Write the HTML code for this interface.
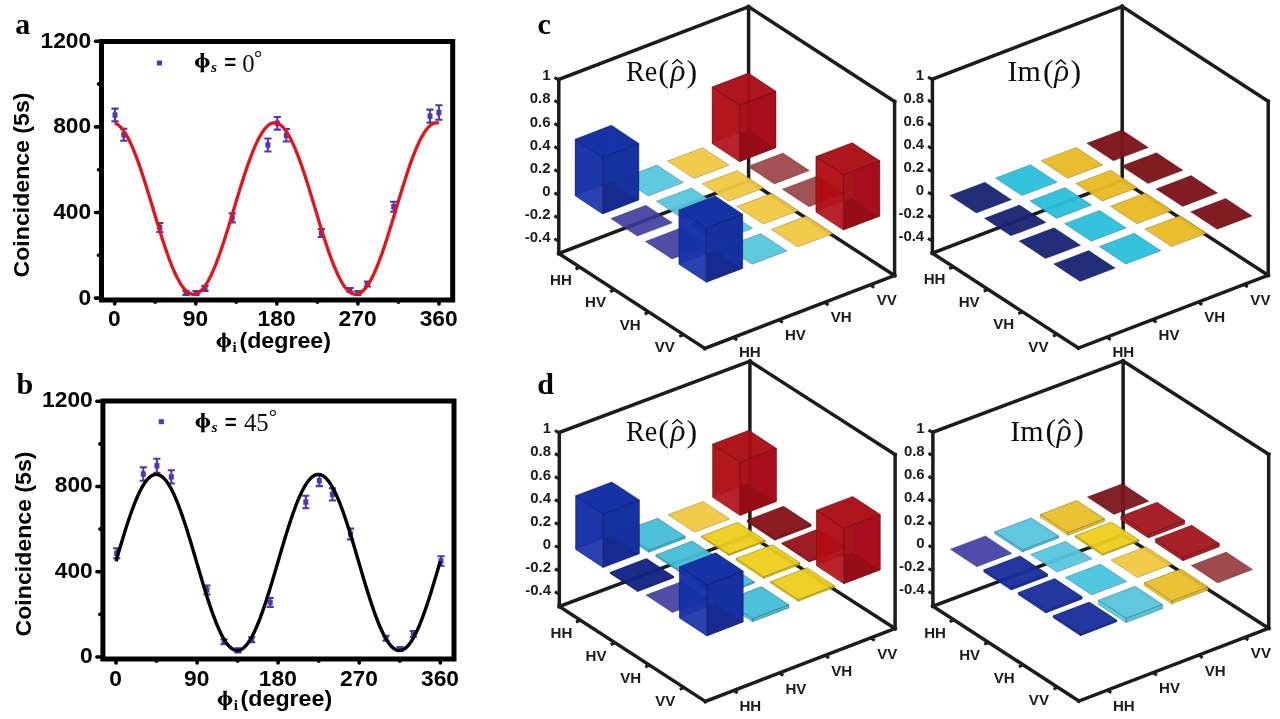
<!DOCTYPE html><html><head><meta charset="utf-8"><title>figure</title><style>html,body{margin:0;padding:0;background:#fff}svg{display:block;will-change:transform}</style></head><body>
<svg width="1280" height="719" viewBox="0 0 1280 719">
<rect width="1280" height="719" fill="#fff"/>
<defs><filter id="soft" x="0" y="0" width="1280" height="719" filterUnits="userSpaceOnUse"><feGaussianBlur stdDeviation="0.42"/></filter></defs>
<g filter="url(#soft)">
<rect width="1280" height="719" fill="#fff"/>
<rect x="101.5" y="41.5" width="351.2" height="258.5" fill="none" stroke="#000" stroke-width="5"/>
<line x1="114.7" y1="300" x2="114.7" y2="304.0" stroke="#000" stroke-width="3.6" stroke-linecap="round"/>
<line x1="155.2" y1="300" x2="155.2" y2="302.2" stroke="#000" stroke-width="3.6" stroke-linecap="round"/>
<line x1="195.8" y1="300" x2="195.8" y2="304.0" stroke="#000" stroke-width="3.6" stroke-linecap="round"/>
<line x1="236.3" y1="300" x2="236.3" y2="302.2" stroke="#000" stroke-width="3.6" stroke-linecap="round"/>
<line x1="276.8" y1="300" x2="276.8" y2="304.0" stroke="#000" stroke-width="3.6" stroke-linecap="round"/>
<line x1="317.4" y1="300" x2="317.4" y2="302.2" stroke="#000" stroke-width="3.6" stroke-linecap="round"/>
<line x1="357.9" y1="300" x2="357.9" y2="304.0" stroke="#000" stroke-width="3.6" stroke-linecap="round"/>
<line x1="398.5" y1="300" x2="398.5" y2="302.2" stroke="#000" stroke-width="3.6" stroke-linecap="round"/>
<line x1="439.0" y1="300" x2="439.0" y2="304.0" stroke="#000" stroke-width="3.6" stroke-linecap="round"/>
<line x1="101.5" y1="41.3" x2="95.5" y2="41.3" stroke="#000" stroke-width="3.6" stroke-linecap="round"/>
<line x1="101.5" y1="84.1" x2="98.5" y2="84.1" stroke="#000" stroke-width="3.6" stroke-linecap="round"/>
<line x1="101.5" y1="126.9" x2="95.5" y2="126.9" stroke="#000" stroke-width="3.6" stroke-linecap="round"/>
<line x1="101.5" y1="169.7" x2="98.5" y2="169.7" stroke="#000" stroke-width="3.6" stroke-linecap="round"/>
<line x1="101.5" y1="212.5" x2="95.5" y2="212.5" stroke="#000" stroke-width="3.6" stroke-linecap="round"/>
<line x1="101.5" y1="255.3" x2="98.5" y2="255.3" stroke="#000" stroke-width="3.6" stroke-linecap="round"/>
<line x1="101.5" y1="298.1" x2="95.5" y2="298.1" stroke="#000" stroke-width="3.6" stroke-linecap="round"/>
<text transform="translate(91.20,47.70) scale(1.06,1)" font-family="Liberation Sans, sans-serif" font-size="21.5" font-weight="bold" font-style="normal" text-anchor="end" fill="#000" >1200</text>
<text transform="translate(91.20,133.30) scale(1.06,1)" font-family="Liberation Sans, sans-serif" font-size="21.5" font-weight="bold" font-style="normal" text-anchor="end" fill="#000" >800</text>
<text transform="translate(91.20,218.90) scale(1.06,1)" font-family="Liberation Sans, sans-serif" font-size="21.5" font-weight="bold" font-style="normal" text-anchor="end" fill="#000" >400</text>
<text transform="translate(91.20,304.50) scale(1.06,1)" font-family="Liberation Sans, sans-serif" font-size="21.5" font-weight="bold" font-style="normal" text-anchor="end" fill="#000" >0</text>
<text transform="translate(114.40,326.10) scale(1.06,1)" font-family="Liberation Sans, sans-serif" font-size="21.5" font-weight="bold" font-style="normal" text-anchor="middle" fill="#000" >0</text>
<text transform="translate(195.47,326.10) scale(1.06,1)" font-family="Liberation Sans, sans-serif" font-size="21.5" font-weight="bold" font-style="normal" text-anchor="middle" fill="#000" >90</text>
<text transform="translate(276.54,326.10) scale(1.06,1)" font-family="Liberation Sans, sans-serif" font-size="21.5" font-weight="bold" font-style="normal" text-anchor="middle" fill="#000" >180</text>
<text transform="translate(357.62,326.10) scale(1.06,1)" font-family="Liberation Sans, sans-serif" font-size="21.5" font-weight="bold" font-style="normal" text-anchor="middle" fill="#000" >270</text>
<text transform="translate(438.69,326.10) scale(1.06,1)" font-family="Liberation Sans, sans-serif" font-size="21.5" font-weight="bold" font-style="normal" text-anchor="middle" fill="#000" >360</text>
<text transform="translate(29.3,185) rotate(-90) scale(1.075,1)" font-family="Liberation Sans, sans-serif" font-size="21.5" font-weight="bold" text-anchor="middle">Coincidence (5s)</text>
<path fill-rule="evenodd" d="M216.45,342.15a7.4,5.3 0 1,0 14.8,0a7.4,5.3 0 1,0 -14.8,0z M220.35,342.15a3.5,4.3 0 1,0 7,0a3.5,4.3 0 1,0 -7,0z" fill="#000"/>
<path d="M222.25,333.25h-0.6v-0.6h4.4v0.6h-0.6v18h0.6v0.6h-4.4v-0.6h0.6z" fill="#000"/>
<text transform="translate(232.60,351.50) scale(1.0,1)" font-family="Liberation Serif, serif" font-size="15" font-weight="bold" font-style="normal" text-anchor="start" fill="#000" >i</text>
<text transform="translate(239.40,348.00) scale(1.08,1)" font-family="Liberation Sans, sans-serif" font-size="21.5" font-weight="bold" font-style="normal" text-anchor="start" fill="#000" >(degree)</text>
<rect x="156.9" y="60.5" width="5.2" height="5" fill="#5236ad"/>
<path fill-rule="evenodd" d="M194.90,62.60a7.4,5.3 0 1,0 14.8,0a7.4,5.3 0 1,0 -14.8,0z M198.80,62.60a3.5,4.3 0 1,0 7,0a3.5,4.3 0 1,0 -7,0z" fill="#000"/>
<path d="M200.70,53.70h-0.6v-0.6h4.4v0.6h-0.6v18h0.6v0.6h-4.4v-0.6h0.6z" fill="#000"/>
<text transform="translate(210.90,72.00) scale(1.0,1)" font-family="Liberation Serif, serif" font-size="15.5" font-weight="bold" font-style="italic" text-anchor="start" fill="#000" >s</text>
<text transform="translate(224.20,69.20) scale(1.0,1)" font-family="Liberation Sans, sans-serif" font-size="20.5" font-weight="bold" font-style="normal" text-anchor="start" fill="#000" >=</text>
<text transform="translate(242.30,71.50) scale(1.02,1)" font-family="Liberation Serif, serif" font-size="24.3" font-weight="normal" font-style="normal" text-anchor="start" fill="#111" >0</text>
<circle cx="258.1" cy="54" r="2.5" fill="none" stroke="#111" stroke-width="1.1"/>
<path d="M115.0,108.6V121.4M111.4,108.6h7.2M111.4,121.4h7.2" stroke="#5236ad" stroke-width="2.1" fill="none"/>
<rect x="112.5" y="112.3" width="5" height="5.4" fill="#5236ad"/>
<path d="M123.8,128.8V140.8M120.2,128.8h7.2M120.2,140.8h7.2" stroke="#5236ad" stroke-width="2.1" fill="none"/>
<rect x="121.3" y="132.1" width="5" height="5.4" fill="#5236ad"/>
<path d="M159.8,223.0V232.0M156.2,223.0h7.2M156.2,232.0h7.2" stroke="#5236ad" stroke-width="2.1" fill="none"/>
<rect x="157.3" y="224.8" width="5" height="5.4" fill="#5236ad"/>
<path d="M186.0,291.0V295.0M182.4,291.0h7.2M182.4,295.0h7.2" stroke="#5236ad" stroke-width="2.1" fill="none"/>
<rect x="183.5" y="290.3" width="5" height="5.4" fill="#5236ad"/>
<path d="M196.0,291.0V295.0M192.4,291.0h7.2M192.4,295.0h7.2" stroke="#5236ad" stroke-width="2.1" fill="none"/>
<rect x="193.5" y="290.3" width="5" height="5.4" fill="#5236ad"/>
<path d="M205.0,285.9V290.9M201.4,285.9h7.2M201.4,290.9h7.2" stroke="#5236ad" stroke-width="2.1" fill="none"/>
<rect x="202.5" y="285.7" width="5" height="5.4" fill="#5236ad"/>
<path d="M232.2,213.4V222.4M228.6,213.4h7.2M228.6,222.4h7.2" stroke="#5236ad" stroke-width="2.1" fill="none"/>
<rect x="229.7" y="215.2" width="5" height="5.4" fill="#5236ad"/>
<path d="M267.9,138.5V151.5M264.3,138.5h7.2M264.3,151.5h7.2" stroke="#5236ad" stroke-width="2.1" fill="none"/>
<rect x="265.4" y="142.3" width="5" height="5.4" fill="#5236ad"/>
<path d="M277.3,117.0V129.6M273.7,117.0h7.2M273.7,129.6h7.2" stroke="#5236ad" stroke-width="2.1" fill="none"/>
<rect x="274.8" y="120.6" width="5" height="5.4" fill="#5236ad"/>
<path d="M286.3,129.1V141.5M282.7,129.1h7.2M282.7,141.5h7.2" stroke="#5236ad" stroke-width="2.1" fill="none"/>
<rect x="283.8" y="132.6" width="5" height="5.4" fill="#5236ad"/>
<path d="M321.3,229.0V237.0M317.7,229.0h7.2M317.7,237.0h7.2" stroke="#5236ad" stroke-width="2.1" fill="none"/>
<rect x="318.8" y="230.3" width="5" height="5.4" fill="#5236ad"/>
<path d="M350.0,288.0V292.0M346.4,288.0h7.2M346.4,292.0h7.2" stroke="#5236ad" stroke-width="2.1" fill="none"/>
<rect x="347.5" y="287.3" width="5" height="5.4" fill="#5236ad"/>
<path d="M357.8,291.0V295.0M354.2,291.0h7.2M354.2,295.0h7.2" stroke="#5236ad" stroke-width="2.1" fill="none"/>
<rect x="355.3" y="290.3" width="5" height="5.4" fill="#5236ad"/>
<path d="M367.4,281.5V286.5M363.8,281.5h7.2M363.8,286.5h7.2" stroke="#5236ad" stroke-width="2.1" fill="none"/>
<rect x="364.9" y="281.3" width="5" height="5.4" fill="#5236ad"/>
<path d="M393.7,201.8V211.8M390.1,201.8h7.2M390.1,211.8h7.2" stroke="#5236ad" stroke-width="2.1" fill="none"/>
<rect x="391.2" y="204.1" width="5" height="5.4" fill="#5236ad"/>
<path d="M430.0,109.6V122.6M426.4,109.6h7.2M426.4,122.6h7.2" stroke="#5236ad" stroke-width="2.1" fill="none"/>
<rect x="427.5" y="113.4" width="5" height="5.4" fill="#5236ad"/>
<path d="M438.9,105.3V119.7M435.3,105.3h7.2M435.3,119.7h7.2" stroke="#5236ad" stroke-width="2.1" fill="none"/>
<rect x="436.4" y="109.8" width="5" height="5.4" fill="#5236ad"/>
<polyline points="114.70,123.13 115.60,123.44 116.50,123.86 117.40,124.38 118.30,125.00 119.20,125.72 120.10,126.55 121.01,127.47 121.91,128.50 122.81,129.62 123.71,130.83 124.61,132.15 125.51,133.55 126.41,135.05 127.31,136.63 128.21,138.31 129.11,140.07 130.01,141.91 130.91,143.83 131.82,145.84 132.72,147.92 133.62,150.07 134.52,152.29 135.42,154.59 136.32,156.94 137.22,159.37 138.12,161.85 139.02,164.39 139.92,166.98 140.82,169.62 141.72,172.31 142.62,175.04 143.53,177.82 144.43,180.63 145.33,183.48 146.23,186.36 147.13,189.26 148.03,192.19 148.93,195.14 149.83,198.10 150.73,201.08 151.63,204.06 152.53,207.05 153.43,210.05 154.34,213.04 155.24,216.02 156.14,219.00 157.04,221.96 157.94,224.91 158.84,227.84 159.74,230.74 160.64,233.62 161.54,236.47 162.44,239.28 163.34,242.06 164.24,244.79 165.14,247.48 166.05,250.12 166.95,252.71 167.85,255.25 168.75,257.73 169.65,260.16 170.55,262.51 171.45,264.81 172.35,267.03 173.25,269.18 174.15,271.26 175.05,273.27 175.95,275.19 176.86,277.03 177.76,278.79 178.66,280.47 179.56,282.05 180.46,283.55 181.36,284.95 182.26,286.27 183.16,287.48 184.06,288.60 184.96,289.63 185.86,290.55 186.76,291.38 187.66,292.10 188.57,292.72 189.47,293.24 190.37,293.66 191.27,293.97 192.17,294.18 193.07,294.29 193.97,294.29 194.87,294.18 195.77,293.97 196.67,293.66 197.57,293.24 198.47,292.72 199.38,292.10 200.28,291.38 201.18,290.55 202.08,289.63 202.98,288.60 203.88,287.48 204.78,286.27 205.68,284.95 206.58,283.55 207.48,282.05 208.38,280.47 209.28,278.79 210.18,277.03 211.09,275.19 211.99,273.27 212.89,271.26 213.79,269.18 214.69,267.03 215.59,264.81 216.49,262.51 217.39,260.16 218.29,257.73 219.19,255.25 220.09,252.71 220.99,250.12 221.90,247.48 222.80,244.79 223.70,242.06 224.60,239.28 225.50,236.47 226.40,233.62 227.30,230.74 228.20,227.84 229.10,224.91 230.00,221.96 230.90,219.00 231.80,216.02 232.70,213.04 233.61,210.05 234.51,207.05 235.41,204.06 236.31,201.08 237.21,198.10 238.11,195.14 239.01,192.19 239.91,189.26 240.81,186.36 241.71,183.48 242.61,180.63 243.51,177.82 244.42,175.04 245.32,172.31 246.22,169.62 247.12,166.98 248.02,164.39 248.92,161.85 249.82,159.37 250.72,156.94 251.62,154.59 252.52,152.29 253.42,150.07 254.32,147.92 255.22,145.84 256.13,143.83 257.03,141.91 257.93,140.07 258.83,138.31 259.73,136.63 260.63,135.05 261.53,133.55 262.43,132.15 263.33,130.83 264.23,129.62 265.13,128.50 266.03,127.47 266.94,126.55 267.84,125.72 268.74,125.00 269.64,124.38 270.54,123.86 271.44,123.44 272.34,123.13 273.24,122.92 274.14,122.81 275.04,122.81 275.94,122.92 276.84,123.13 277.74,123.44 278.65,123.86 279.55,124.38 280.45,125.00 281.35,125.72 282.25,126.55 283.15,127.47 284.05,128.50 284.95,129.62 285.85,130.83 286.75,132.15 287.65,133.55 288.55,135.05 289.46,136.63 290.36,138.31 291.26,140.07 292.16,141.91 293.06,143.83 293.96,145.84 294.86,147.92 295.76,150.07 296.66,152.29 297.56,154.59 298.46,156.94 299.36,159.37 300.26,161.85 301.17,164.39 302.07,166.98 302.97,169.62 303.87,172.31 304.77,175.04 305.67,177.82 306.57,180.63 307.47,183.48 308.37,186.36 309.27,189.26 310.17,192.19 311.07,195.14 311.98,198.10 312.88,201.08 313.78,204.06 314.68,207.05 315.58,210.05 316.48,213.04 317.38,216.02 318.28,219.00 319.18,221.96 320.08,224.91 320.98,227.84 321.88,230.74 322.78,233.62 323.69,236.47 324.59,239.28 325.49,242.06 326.39,244.79 327.29,247.48 328.19,250.12 329.09,252.71 329.99,255.25 330.89,257.73 331.79,260.16 332.69,262.51 333.59,264.81 334.50,267.03 335.40,269.18 336.30,271.26 337.20,273.27 338.10,275.19 339.00,277.03 339.90,278.79 340.80,280.47 341.70,282.05 342.60,283.55 343.50,284.95 344.40,286.27 345.30,287.48 346.21,288.60 347.11,289.63 348.01,290.55 348.91,291.38 349.81,292.10 350.71,292.72 351.61,293.24 352.51,293.66 353.41,293.97 354.31,294.18 355.21,294.29 356.11,294.29 357.02,294.18 357.92,293.97 358.82,293.66 359.72,293.24 360.62,292.72 361.52,292.10 362.42,291.38 363.32,290.55 364.22,289.63 365.12,288.60 366.02,287.48 366.92,286.27 367.82,284.95 368.73,283.55 369.63,282.05 370.53,280.47 371.43,278.79 372.33,277.03 373.23,275.19 374.13,273.27 375.03,271.26 375.93,269.18 376.83,267.03 377.73,264.81 378.63,262.51 379.54,260.16 380.44,257.73 381.34,255.25 382.24,252.71 383.14,250.12 384.04,247.48 384.94,244.79 385.84,242.06 386.74,239.28 387.64,236.47 388.54,233.62 389.44,230.74 390.34,227.84 391.25,224.91 392.15,221.96 393.05,219.00 393.95,216.02 394.85,213.04 395.75,210.05 396.65,207.05 397.55,204.06 398.45,201.08 399.35,198.10 400.25,195.14 401.15,192.19 402.06,189.26 402.96,186.36 403.86,183.48 404.76,180.63 405.66,177.82 406.56,175.04 407.46,172.31 408.36,169.62 409.26,166.98 410.16,164.39 411.06,161.85 411.96,159.37 412.86,156.94 413.77,154.59 414.67,152.29 415.57,150.07 416.47,147.92 417.37,145.84 418.27,143.83 419.17,141.91 420.07,140.07 420.97,138.31 421.87,136.63 422.77,135.05 423.67,133.55 424.58,132.15 425.48,130.83 426.38,129.62 427.28,128.50 428.18,127.47 429.08,126.55 429.98,125.72 430.88,125.00 431.78,124.38 432.68,123.86 433.58,123.44 434.48,123.13 435.38,122.92 436.29,122.81 437.19,122.81 438.09,122.92 438.99,123.13" fill="none" stroke="#e0141c" stroke-width="3.3" stroke-linejoin="round" stroke-linecap="butt"/>
<text transform="translate(15.20,33.70) scale(1.0,1)" font-family="Liberation Serif, serif" font-size="30" font-weight="bold" font-style="normal" text-anchor="start" fill="#000" >a</text>
<rect x="102.9" y="401" width="351.1" height="258" fill="none" stroke="#000" stroke-width="5"/>
<line x1="116.0" y1="659" x2="116.0" y2="663.0" stroke="#000" stroke-width="3.6" stroke-linecap="round"/>
<line x1="156.5" y1="659" x2="156.5" y2="661.2" stroke="#000" stroke-width="3.6" stroke-linecap="round"/>
<line x1="197.1" y1="659" x2="197.1" y2="663.0" stroke="#000" stroke-width="3.6" stroke-linecap="round"/>
<line x1="237.6" y1="659" x2="237.6" y2="661.2" stroke="#000" stroke-width="3.6" stroke-linecap="round"/>
<line x1="278.1" y1="659" x2="278.1" y2="663.0" stroke="#000" stroke-width="3.6" stroke-linecap="round"/>
<line x1="318.7" y1="659" x2="318.7" y2="661.2" stroke="#000" stroke-width="3.6" stroke-linecap="round"/>
<line x1="359.2" y1="659" x2="359.2" y2="663.0" stroke="#000" stroke-width="3.6" stroke-linecap="round"/>
<line x1="399.8" y1="659" x2="399.8" y2="661.2" stroke="#000" stroke-width="3.6" stroke-linecap="round"/>
<line x1="440.3" y1="659" x2="440.3" y2="663.0" stroke="#000" stroke-width="3.6" stroke-linecap="round"/>
<line x1="102.9" y1="401.3" x2="96.9" y2="401.3" stroke="#000" stroke-width="3.6" stroke-linecap="round"/>
<line x1="102.9" y1="443.9" x2="99.9" y2="443.9" stroke="#000" stroke-width="3.6" stroke-linecap="round"/>
<line x1="102.9" y1="486.5" x2="96.9" y2="486.5" stroke="#000" stroke-width="3.6" stroke-linecap="round"/>
<line x1="102.9" y1="529.1" x2="99.9" y2="529.1" stroke="#000" stroke-width="3.6" stroke-linecap="round"/>
<line x1="102.9" y1="571.8" x2="96.9" y2="571.8" stroke="#000" stroke-width="3.6" stroke-linecap="round"/>
<line x1="102.9" y1="614.4" x2="99.9" y2="614.4" stroke="#000" stroke-width="3.6" stroke-linecap="round"/>
<line x1="102.9" y1="657.0" x2="96.9" y2="657.0" stroke="#000" stroke-width="3.6" stroke-linecap="round"/>
<text transform="translate(92.80,407.20) scale(1.06,1)" font-family="Liberation Sans, sans-serif" font-size="21.5" font-weight="bold" font-style="normal" text-anchor="end" fill="#000" >1200</text>
<text transform="translate(92.80,492.43) scale(1.06,1)" font-family="Liberation Sans, sans-serif" font-size="21.5" font-weight="bold" font-style="normal" text-anchor="end" fill="#000" >800</text>
<text transform="translate(92.80,577.67) scale(1.06,1)" font-family="Liberation Sans, sans-serif" font-size="21.5" font-weight="bold" font-style="normal" text-anchor="end" fill="#000" >400</text>
<text transform="translate(92.80,662.90) scale(1.06,1)" font-family="Liberation Sans, sans-serif" font-size="21.5" font-weight="bold" font-style="normal" text-anchor="end" fill="#000" >0</text>
<text transform="translate(115.70,686.00) scale(1.06,1)" font-family="Liberation Sans, sans-serif" font-size="21.5" font-weight="bold" font-style="normal" text-anchor="middle" fill="#000" >0</text>
<text transform="translate(196.77,686.00) scale(1.06,1)" font-family="Liberation Sans, sans-serif" font-size="21.5" font-weight="bold" font-style="normal" text-anchor="middle" fill="#000" >90</text>
<text transform="translate(277.84,686.00) scale(1.06,1)" font-family="Liberation Sans, sans-serif" font-size="21.5" font-weight="bold" font-style="normal" text-anchor="middle" fill="#000" >180</text>
<text transform="translate(358.92,686.00) scale(1.06,1)" font-family="Liberation Sans, sans-serif" font-size="21.5" font-weight="bold" font-style="normal" text-anchor="middle" fill="#000" >270</text>
<text transform="translate(439.99,686.00) scale(1.06,1)" font-family="Liberation Sans, sans-serif" font-size="21.5" font-weight="bold" font-style="normal" text-anchor="middle" fill="#000" >360</text>
<text transform="translate(30.7,544) rotate(-90) scale(1.075,1)" font-family="Liberation Sans, sans-serif" font-size="21.5" font-weight="bold" text-anchor="middle">Coincidence (5s)</text>
<path fill-rule="evenodd" d="M217.65,700.35a7.4,5.3 0 1,0 14.8,0a7.4,5.3 0 1,0 -14.8,0z M221.55,700.35a3.5,4.3 0 1,0 7,0a3.5,4.3 0 1,0 -7,0z" fill="#000"/>
<path d="M223.45,691.45h-0.6v-0.6h4.4v0.6h-0.6v18h0.6v0.6h-4.4v-0.6h0.6z" fill="#000"/>
<text transform="translate(233.80,709.70) scale(1.0,1)" font-family="Liberation Serif, serif" font-size="15" font-weight="bold" font-style="normal" text-anchor="start" fill="#000" >i</text>
<text transform="translate(240.60,706.20) scale(1.08,1)" font-family="Liberation Sans, sans-serif" font-size="21.5" font-weight="bold" font-style="normal" text-anchor="start" fill="#000" >(degree)</text>
<rect x="158.7" y="419.2" width="5.2" height="5" fill="#5236ad"/>
<path fill-rule="evenodd" d="M195.50,422.50a7.4,5.3 0 1,0 14.8,0a7.4,5.3 0 1,0 -14.8,0z M199.40,422.50a3.5,4.3 0 1,0 7,0a3.5,4.3 0 1,0 -7,0z" fill="#000"/>
<path d="M201.30,413.60h-0.6v-0.6h4.4v0.6h-0.6v18h0.6v0.6h-4.4v-0.6h0.6z" fill="#000"/>
<text transform="translate(211.50,431.90) scale(1.0,1)" font-family="Liberation Serif, serif" font-size="15.5" font-weight="bold" font-style="italic" text-anchor="start" fill="#000" >s</text>
<text transform="translate(224.80,429.10) scale(1.0,1)" font-family="Liberation Sans, sans-serif" font-size="20.5" font-weight="bold" font-style="normal" text-anchor="start" fill="#000" >=</text>
<text transform="translate(243.90,431.40) scale(1.02,1)" font-family="Liberation Serif, serif" font-size="24.3" font-weight="normal" font-style="normal" text-anchor="start" fill="#111" >45</text>
<circle cx="272.9" cy="413" r="2.5" fill="none" stroke="#111" stroke-width="1.1"/>
<path d="M116.7,548.3V558.3M113.1,548.3h7.2M113.1,558.3h7.2" stroke="#5236ad" stroke-width="2.1" fill="none"/>
<rect x="114.2" y="550.6" width="5" height="5.4" fill="#5236ad"/>
<path d="M143.3,467.2V480.8M139.7,467.2h7.2M139.7,480.8h7.2" stroke="#5236ad" stroke-width="2.1" fill="none"/>
<rect x="140.8" y="471.3" width="5" height="5.4" fill="#5236ad"/>
<path d="M156.9,458.8V472.8M153.3,458.8h7.2M153.3,472.8h7.2" stroke="#5236ad" stroke-width="2.1" fill="none"/>
<rect x="154.4" y="463.1" width="5" height="5.4" fill="#5236ad"/>
<path d="M171.3,470.3V483.5M167.7,470.3h7.2M167.7,483.5h7.2" stroke="#5236ad" stroke-width="2.1" fill="none"/>
<rect x="168.8" y="474.2" width="5" height="5.4" fill="#5236ad"/>
<path d="M207.0,585.5V594.5M203.4,585.5h7.2M203.4,594.5h7.2" stroke="#5236ad" stroke-width="2.1" fill="none"/>
<rect x="204.5" y="587.3" width="5" height="5.4" fill="#5236ad"/>
<path d="M224.0,639.2V644.2M220.4,639.2h7.2M220.4,644.2h7.2" stroke="#5236ad" stroke-width="2.1" fill="none"/>
<rect x="221.5" y="639.0" width="5" height="5.4" fill="#5236ad"/>
<path d="M238.0,648.4V652.4M234.4,648.4h7.2M234.4,652.4h7.2" stroke="#5236ad" stroke-width="2.1" fill="none"/>
<rect x="235.5" y="647.7" width="5" height="5.4" fill="#5236ad"/>
<path d="M251.7,637.2V642.2M248.1,637.2h7.2M248.1,642.2h7.2" stroke="#5236ad" stroke-width="2.1" fill="none"/>
<rect x="249.2" y="637.0" width="5" height="5.4" fill="#5236ad"/>
<path d="M270.2,598.0V607.0M266.6,598.0h7.2M266.6,607.0h7.2" stroke="#5236ad" stroke-width="2.1" fill="none"/>
<rect x="267.7" y="599.8" width="5" height="5.4" fill="#5236ad"/>
<path d="M305.8,495.8V508.2M302.2,495.8h7.2M302.2,508.2h7.2" stroke="#5236ad" stroke-width="2.1" fill="none"/>
<rect x="303.3" y="499.3" width="5" height="5.4" fill="#5236ad"/>
<path d="M319.3,475.3V486.1M315.7,475.3h7.2M315.7,486.1h7.2" stroke="#5236ad" stroke-width="2.1" fill="none"/>
<rect x="316.8" y="478.0" width="5" height="5.4" fill="#5236ad"/>
<path d="M332.4,488.3V500.5M328.8,488.3h7.2M328.8,500.5h7.2" stroke="#5236ad" stroke-width="2.1" fill="none"/>
<rect x="329.9" y="491.7" width="5" height="5.4" fill="#5236ad"/>
<path d="M350.5,528.6V539.4M346.9,528.6h7.2M346.9,539.4h7.2" stroke="#5236ad" stroke-width="2.1" fill="none"/>
<rect x="348.0" y="531.3" width="5" height="5.4" fill="#5236ad"/>
<path d="M386.0,635.8V640.8M382.4,635.8h7.2M382.4,640.8h7.2" stroke="#5236ad" stroke-width="2.1" fill="none"/>
<rect x="383.5" y="635.6" width="5" height="5.4" fill="#5236ad"/>
<path d="M400.0,647.0V651.0M396.4,647.0h7.2M396.4,651.0h7.2" stroke="#5236ad" stroke-width="2.1" fill="none"/>
<rect x="397.5" y="646.3" width="5" height="5.4" fill="#5236ad"/>
<path d="M413.3,631.0V637.0M409.7,631.0h7.2M409.7,637.0h7.2" stroke="#5236ad" stroke-width="2.1" fill="none"/>
<rect x="410.8" y="631.3" width="5" height="5.4" fill="#5236ad"/>
<path d="M441.0,556.3V565.7M437.4,556.3h7.2M437.4,565.7h7.2" stroke="#5236ad" stroke-width="2.1" fill="none"/>
<rect x="438.5" y="558.3" width="5" height="5.4" fill="#5236ad"/>
<polyline points="116.00,561.22 116.90,558.15 117.80,555.08 118.70,552.02 119.60,548.98 120.50,545.95 121.40,542.94 122.31,539.96 123.21,537.00 124.11,534.07 125.01,531.18 125.91,528.33 126.81,525.52 127.71,522.75 128.61,520.03 129.51,517.36 130.41,514.75 131.31,512.20 132.21,509.71 133.12,507.28 134.02,504.92 134.92,502.63 135.82,500.41 136.72,498.26 137.62,496.20 138.52,494.22 139.42,492.32 140.32,490.50 141.22,488.77 142.12,487.14 143.02,485.59 143.92,484.14 144.83,482.78 145.73,481.52 146.63,480.36 147.53,479.30 148.43,478.34 149.33,477.48 150.23,476.73 151.13,476.08 152.03,475.53 152.93,475.09 153.83,474.76 154.73,474.54 155.64,474.42 156.54,474.41 157.44,474.51 158.34,474.71 159.24,475.02 160.14,475.44 161.04,475.96 161.94,476.59 162.84,477.32 163.74,478.16 164.64,479.10 165.54,480.14 166.44,481.28 167.35,482.52 168.25,483.86 169.15,485.29 170.05,486.82 170.95,488.44 171.85,490.15 172.75,491.95 173.65,493.83 174.55,495.80 175.45,497.85 176.35,499.97 177.25,502.18 178.16,504.45 179.06,506.80 179.96,509.22 180.86,511.70 181.76,514.24 182.66,516.84 183.56,519.49 184.46,522.20 185.36,524.96 186.26,527.76 187.16,530.61 188.06,533.49 188.96,536.41 189.87,539.36 190.77,542.34 191.67,545.35 192.57,548.37 193.47,551.41 194.37,554.47 195.27,557.53 196.17,560.61 197.07,563.68 197.97,566.75 198.87,569.82 199.77,572.88 200.68,575.92 201.58,578.95 202.48,581.96 203.38,584.94 204.28,587.90 205.18,590.83 206.08,593.72 206.98,596.57 207.88,599.38 208.78,602.15 209.68,604.87 210.58,607.54 211.48,610.15 212.39,612.70 213.29,615.19 214.19,617.62 215.09,619.98 215.99,622.27 216.89,624.49 217.79,626.64 218.69,628.70 219.59,630.68 220.49,632.58 221.39,634.40 222.29,636.13 223.20,637.76 224.10,639.31 225.00,640.76 225.90,642.12 226.80,643.38 227.70,644.54 228.60,645.60 229.50,646.56 230.40,647.42 231.30,648.17 232.20,648.82 233.10,649.37 234.00,649.81 234.91,650.14 235.81,650.36 236.71,650.48 237.61,650.49 238.51,650.39 239.41,650.19 240.31,649.88 241.21,649.46 242.11,648.94 243.01,648.31 243.91,647.58 244.81,646.74 245.72,645.80 246.62,644.76 247.52,643.62 248.42,642.38 249.32,641.04 250.22,639.61 251.12,638.08 252.02,636.46 252.92,634.75 253.82,632.95 254.72,631.07 255.62,629.10 256.52,627.05 257.43,624.93 258.33,622.72 259.23,620.45 260.13,618.10 261.03,615.68 261.93,613.20 262.83,610.66 263.73,608.06 264.63,605.41 265.53,602.70 266.43,599.94 267.33,597.14 268.24,594.29 269.14,591.41 270.04,588.49 270.94,585.54 271.84,582.56 272.74,579.55 273.64,576.53 274.54,573.49 275.44,570.43 276.34,567.37 277.24,564.29 278.14,561.22 279.04,558.15 279.95,555.08 280.85,552.02 281.75,548.98 282.65,545.95 283.55,542.94 284.45,539.96 285.35,537.00 286.25,534.07 287.15,531.18 288.05,528.33 288.95,525.52 289.85,522.75 290.76,520.03 291.66,517.36 292.56,514.75 293.46,512.20 294.36,509.71 295.26,507.28 296.16,504.92 297.06,502.63 297.96,500.41 298.86,498.26 299.76,496.20 300.66,494.22 301.56,492.32 302.47,490.50 303.37,488.77 304.27,487.14 305.17,485.59 306.07,484.14 306.97,482.78 307.87,481.52 308.77,480.36 309.67,479.30 310.57,478.34 311.47,477.48 312.37,476.73 313.28,476.08 314.18,475.53 315.08,475.09 315.98,474.76 316.88,474.54 317.78,474.42 318.68,474.41 319.58,474.51 320.48,474.71 321.38,475.02 322.28,475.44 323.18,475.96 324.08,476.59 324.99,477.32 325.89,478.16 326.79,479.10 327.69,480.14 328.59,481.28 329.49,482.52 330.39,483.86 331.29,485.29 332.19,486.82 333.09,488.44 333.99,490.15 334.89,491.95 335.80,493.83 336.70,495.80 337.60,497.85 338.50,499.97 339.40,502.18 340.30,504.45 341.20,506.80 342.10,509.22 343.00,511.70 343.90,514.24 344.80,516.84 345.70,519.49 346.60,522.20 347.51,524.96 348.41,527.76 349.31,530.61 350.21,533.49 351.11,536.41 352.01,539.36 352.91,542.34 353.81,545.35 354.71,548.37 355.61,551.41 356.51,554.47 357.41,557.53 358.32,560.61 359.22,563.68 360.12,566.75 361.02,569.82 361.92,572.88 362.82,575.92 363.72,578.95 364.62,581.96 365.52,584.94 366.42,587.90 367.32,590.83 368.22,593.72 369.12,596.57 370.03,599.38 370.93,602.15 371.83,604.87 372.73,607.54 373.63,610.15 374.53,612.70 375.43,615.19 376.33,617.62 377.23,619.98 378.13,622.27 379.03,624.49 379.93,626.64 380.84,628.70 381.74,630.68 382.64,632.58 383.54,634.40 384.44,636.13 385.34,637.76 386.24,639.31 387.14,640.76 388.04,642.12 388.94,643.38 389.84,644.54 390.74,645.60 391.64,646.56 392.55,647.42 393.45,648.17 394.35,648.82 395.25,649.37 396.15,649.81 397.05,650.14 397.95,650.36 398.85,650.48 399.75,650.49 400.65,650.39 401.55,650.19 402.45,649.88 403.36,649.46 404.26,648.94 405.16,648.31 406.06,647.58 406.96,646.74 407.86,645.80 408.76,644.76 409.66,643.62 410.56,642.38 411.46,641.04 412.36,639.61 413.26,638.08 414.16,636.46 415.07,634.75 415.97,632.95 416.87,631.07 417.77,629.10 418.67,627.05 419.57,624.93 420.47,622.72 421.37,620.45 422.27,618.10 423.17,615.68 424.07,613.20 424.97,610.66 425.88,608.06 426.78,605.41 427.68,602.70 428.58,599.94 429.48,597.14 430.38,594.29 431.28,591.41 432.18,588.49 433.08,585.54 433.98,582.56 434.88,579.55 435.78,576.53 436.68,573.49 437.59,570.43 438.49,567.37 439.39,564.29 440.29,561.22" fill="none" stroke="#000" stroke-width="3.4" stroke-linejoin="round" stroke-linecap="butt"/>
<text transform="translate(16.50,393.60) scale(1.0,1)" font-family="Liberation Serif, serif" font-size="30" font-weight="bold" font-style="normal" text-anchor="start" fill="#000" >b</text>
<line x1="558.8" y1="253.5" x2="748.6" y2="180.7" stroke="#1c1c1c" stroke-width="3.5" stroke-linecap="square"/>
<line x1="748.6" y1="180.7" x2="894.6" y2="275.6" stroke="#1c1c1c" stroke-width="3.5" stroke-linecap="square"/>
<line x1="748.6" y1="180.7" x2="748.6" y2="6.7" stroke="#1c1c1c" stroke-width="3.5" stroke-linecap="square"/>
<polygon points="712.1,143.6 748.4,129.7 776.0,147.8 739.6,161.7" fill="#b20f18" fill-opacity="0.6"/>
<polygon points="712.1,143.6 748.4,129.7 748.4,73.1 712.1,87.0" fill="#a00d15" fill-opacity="0.6"/>
<polygon points="748.4,129.7 776.0,147.8 776.0,91.3 748.4,73.1" fill="#8e0c13" fill-opacity="0.6"/>
<polygon points="712.1,143.6 739.6,161.7 739.6,105.1 712.1,87.0" fill="#b20f18" fill-opacity="0.95" stroke="#50060a" stroke-width="0.7" stroke-opacity="0.55" stroke-linejoin="round"/>
<polygon points="739.6,161.7 776.0,147.8 776.0,91.3 739.6,105.1" fill="#a50d16" fill-opacity="0.95" stroke="#50060a" stroke-width="0.7" stroke-opacity="0.55" stroke-linejoin="round"/>
<polygon points="712.1,87.0 748.4,73.1 776.0,91.3 739.6,105.1" fill="#ac0e17" fill-opacity="0.95" stroke="#50060a" stroke-width="0.7" stroke-opacity="0.55" stroke-linejoin="round"/>
<polygon points="739.6,161.7 776.0,147.8 748.4,129.7 739.6,133.1" fill="#000" fill-opacity="0.1"/>
<polygon points="712.1,143.6 739.6,161.7 739.6,133.1" fill="#fff" fill-opacity="0.07"/>
<polygon points="667.5,161.0 702.6,147.7 729.2,165.2 694.1,178.5" fill="#f0c840" fill-opacity="0.95" stroke="#6c5a1c" stroke-width="0.5" stroke-opacity="0.7" stroke-linejoin="round"/>
<polygon points="747.8,166.4 782.9,153.1 809.4,170.6 774.4,183.9" fill="#9a4245" fill-opacity="0.92" stroke="#451d1f" stroke-width="0.5" stroke-opacity="0.7" stroke-linejoin="round"/>
<polygon points="621.8,178.4 656.9,165.1 683.5,182.6 648.4,195.9" fill="#55c6dd" fill-opacity="0.95" stroke="#265963" stroke-width="0.5" stroke-opacity="0.7" stroke-linejoin="round"/>
<polygon points="702.1,183.8 737.2,170.5 763.8,188.0 728.7,201.3" fill="#f0c840" fill-opacity="0.95" stroke="#6c5a1c" stroke-width="0.5" stroke-opacity="0.7" stroke-linejoin="round"/>
<polygon points="782.4,189.2 817.5,175.9 844.0,193.4 809.0,206.7" fill="#9a4245" fill-opacity="0.92" stroke="#451d1f" stroke-width="0.5" stroke-opacity="0.7" stroke-linejoin="round"/>
<polygon points="575.1,195.8 611.4,181.9 638.9,200.0 602.6,213.9" fill="#1530aa" fill-opacity="0.6"/>
<polygon points="575.1,195.8 611.4,181.9 611.4,125.3 575.1,139.2" fill="#122b99" fill-opacity="0.6"/>
<polygon points="611.4,181.9 638.9,200.0 638.9,143.5 611.4,125.3" fill="#102688" fill-opacity="0.6"/>
<polygon points="575.1,195.8 602.6,213.9 602.6,157.3 575.1,139.2" fill="#1530aa" fill-opacity="0.95" stroke="#09154c" stroke-width="0.7" stroke-opacity="0.55" stroke-linejoin="round"/>
<polygon points="602.6,213.9 638.9,200.0 638.9,143.5 602.6,157.3" fill="#132c9e" fill-opacity="0.95" stroke="#09154c" stroke-width="0.7" stroke-opacity="0.55" stroke-linejoin="round"/>
<polygon points="575.1,139.2 611.4,125.3 638.9,143.5 602.6,157.3" fill="#142ea4" fill-opacity="0.95" stroke="#09154c" stroke-width="0.7" stroke-opacity="0.55" stroke-linejoin="round"/>
<polygon points="602.6,213.9 638.9,200.0 611.4,181.9 602.6,185.3" fill="#000" fill-opacity="0.1"/>
<polygon points="575.1,195.8 602.6,213.9 602.6,185.3" fill="#fff" fill-opacity="0.07"/>
<polygon points="656.4,201.2 691.5,187.9 718.1,205.4 683.0,218.7" fill="#55c6dd" fill-opacity="0.95" stroke="#265963" stroke-width="0.5" stroke-opacity="0.7" stroke-linejoin="round"/>
<polygon points="736.7,206.6 771.8,193.3 798.4,210.8 763.3,224.1" fill="#f0c840" fill-opacity="0.95" stroke="#6c5a1c" stroke-width="0.5" stroke-opacity="0.7" stroke-linejoin="round"/>
<polygon points="815.9,212.0 852.2,198.1 879.8,216.2 843.4,230.1" fill="#b20f18" fill-opacity="0.6"/>
<polygon points="815.9,212.0 852.2,198.1 852.2,142.7 815.9,156.5" fill="#a00d15" fill-opacity="0.6"/>
<polygon points="852.2,198.1 879.8,216.2 879.8,160.8 852.2,142.7" fill="#8e0c13" fill-opacity="0.6"/>
<polygon points="815.9,212.0 843.4,230.1 843.4,174.7 815.9,156.5" fill="#b20f18" fill-opacity="0.95" stroke="#50060a" stroke-width="0.7" stroke-opacity="0.55" stroke-linejoin="round"/>
<polygon points="843.4,230.1 879.8,216.2 879.8,160.8 843.4,174.7" fill="#a50d16" fill-opacity="0.95" stroke="#50060a" stroke-width="0.7" stroke-opacity="0.55" stroke-linejoin="round"/>
<polygon points="815.9,156.5 852.2,142.7 879.8,160.8 843.4,174.7" fill="#ac0e17" fill-opacity="0.95" stroke="#50060a" stroke-width="0.7" stroke-opacity="0.55" stroke-linejoin="round"/>
<polygon points="843.4,230.1 879.8,216.2 852.2,198.1 843.4,201.5" fill="#000" fill-opacity="0.1"/>
<polygon points="815.9,212.0 843.4,230.1 843.4,201.5" fill="#fff" fill-opacity="0.07"/>
<polygon points="610.8,218.6 645.9,205.3 672.4,222.8 637.3,236.1" fill="#3d3a9e" fill-opacity="0.9" stroke="#1b1a47" stroke-width="0.5" stroke-opacity="0.7" stroke-linejoin="round"/>
<polygon points="691.0,224.0 726.1,210.7 752.7,228.2 717.6,241.5" fill="#55c6dd" fill-opacity="0.95" stroke="#265963" stroke-width="0.5" stroke-opacity="0.7" stroke-linejoin="round"/>
<polygon points="771.3,229.4 806.4,216.1 833.0,233.6 797.9,246.9" fill="#f0c840" fill-opacity="0.95" stroke="#6c5a1c" stroke-width="0.5" stroke-opacity="0.7" stroke-linejoin="round"/>
<polygon points="645.4,241.4 680.5,228.1 707.0,245.6 671.9,258.9" fill="#3d3a9e" fill-opacity="0.9" stroke="#1b1a47" stroke-width="0.5" stroke-opacity="0.7" stroke-linejoin="round"/>
<polygon points="725.6,246.8 760.7,233.5 787.3,251.0 752.2,264.3" fill="#55c6dd" fill-opacity="0.95" stroke="#265963" stroke-width="0.5" stroke-opacity="0.7" stroke-linejoin="round"/>
<polygon points="678.9,264.2 715.2,250.3 742.7,268.4 706.4,282.3" fill="#1530aa" fill-opacity="0.6"/>
<polygon points="678.9,264.2 715.2,250.3 715.2,196.0 678.9,209.9" fill="#122b99" fill-opacity="0.6"/>
<polygon points="715.2,250.3 742.7,268.4 742.7,214.2 715.2,196.0" fill="#102688" fill-opacity="0.6"/>
<polygon points="678.9,264.2 706.4,282.3 706.4,228.0 678.9,209.9" fill="#1530aa" fill-opacity="0.95" stroke="#09154c" stroke-width="0.7" stroke-opacity="0.55" stroke-linejoin="round"/>
<polygon points="706.4,282.3 742.7,268.4 742.7,214.2 706.4,228.0" fill="#132c9e" fill-opacity="0.95" stroke="#09154c" stroke-width="0.7" stroke-opacity="0.55" stroke-linejoin="round"/>
<polygon points="678.9,209.9 715.2,196.0 742.7,214.2 706.4,228.0" fill="#142ea4" fill-opacity="0.95" stroke="#09154c" stroke-width="0.7" stroke-opacity="0.55" stroke-linejoin="round"/>
<polygon points="706.4,282.3 742.7,268.4 715.2,250.3 706.4,253.7" fill="#000" fill-opacity="0.1"/>
<polygon points="678.9,264.2 706.4,282.3 706.4,253.7" fill="#fff" fill-opacity="0.07"/>
<line x1="558.8" y1="253.5" x2="704.8" y2="348.4" stroke="#1c1c1c" stroke-width="3.5" stroke-linecap="square"/>
<line x1="704.8" y1="348.4" x2="894.6" y2="275.6" stroke="#1c1c1c" stroke-width="3.5" stroke-linecap="square"/>
<line x1="558.8" y1="253.5" x2="558.8" y2="79.5" stroke="#1c1c1c" stroke-width="3.5" stroke-linecap="square"/>
<line x1="894.6" y1="275.6" x2="894.6" y2="101.6" stroke="#1c1c1c" stroke-width="3.5" stroke-linecap="square"/>
<line x1="558.8" y1="79.5" x2="748.6" y2="6.7" stroke="#1c1c1c" stroke-width="3.5" stroke-linecap="square"/>
<line x1="748.6" y1="6.7" x2="894.6" y2="101.6" stroke="#1c1c1c" stroke-width="3.5" stroke-linecap="square"/>
<line x1="557.8" y1="79.3" x2="554.4" y2="77.5" stroke="#1c1c1c" stroke-width="3"/>
<text transform="translate(550.60,80.40) scale(1.07,1)" font-family="Liberation Sans, sans-serif" font-size="14" font-weight="bold" font-style="normal" text-anchor="end" fill="#1a1a1a" >1</text>
<line x1="557.8" y1="102.3" x2="554.4" y2="100.5" stroke="#1c1c1c" stroke-width="3"/>
<text transform="translate(550.60,103.45) scale(1.07,1)" font-family="Liberation Sans, sans-serif" font-size="14" font-weight="bold" font-style="normal" text-anchor="end" fill="#1a1a1a" >0.8</text>
<line x1="557.8" y1="125.4" x2="554.4" y2="123.6" stroke="#1c1c1c" stroke-width="3"/>
<text transform="translate(550.60,126.50) scale(1.07,1)" font-family="Liberation Sans, sans-serif" font-size="14" font-weight="bold" font-style="normal" text-anchor="end" fill="#1a1a1a" >0.6</text>
<line x1="557.8" y1="148.5" x2="554.4" y2="146.7" stroke="#1c1c1c" stroke-width="3"/>
<text transform="translate(550.60,149.55) scale(1.07,1)" font-family="Liberation Sans, sans-serif" font-size="14" font-weight="bold" font-style="normal" text-anchor="end" fill="#1a1a1a" >0.4</text>
<line x1="557.8" y1="171.5" x2="554.4" y2="169.7" stroke="#1c1c1c" stroke-width="3"/>
<text transform="translate(550.60,172.60) scale(1.07,1)" font-family="Liberation Sans, sans-serif" font-size="14" font-weight="bold" font-style="normal" text-anchor="end" fill="#1a1a1a" >0.2</text>
<line x1="557.8" y1="194.6" x2="554.4" y2="192.8" stroke="#1c1c1c" stroke-width="3"/>
<text transform="translate(550.60,195.65) scale(1.07,1)" font-family="Liberation Sans, sans-serif" font-size="14" font-weight="bold" font-style="normal" text-anchor="end" fill="#1a1a1a" >0</text>
<line x1="557.8" y1="217.6" x2="554.4" y2="215.8" stroke="#1c1c1c" stroke-width="3"/>
<text transform="translate(550.60,218.70) scale(1.07,1)" font-family="Liberation Sans, sans-serif" font-size="14" font-weight="bold" font-style="normal" text-anchor="end" fill="#1a1a1a" >-0.2</text>
<line x1="557.8" y1="240.7" x2="554.4" y2="238.8" stroke="#1c1c1c" stroke-width="3"/>
<text transform="translate(550.60,241.75) scale(1.07,1)" font-family="Liberation Sans, sans-serif" font-size="14" font-weight="bold" font-style="normal" text-anchor="end" fill="#1a1a1a" >-0.4</text>
<line x1="580.0" y1="267.3" x2="575.5" y2="269.0" stroke="#1c1c1c" stroke-width="3"/>
<text transform="translate(560.97,284.56) scale(1.04,1)" font-family="Liberation Sans, sans-serif" font-size="14.5" font-weight="bold" font-style="normal" text-anchor="middle" fill="#1a1a1a" >HH</text>
<line x1="614.6" y1="289.8" x2="610.1" y2="291.5" stroke="#1c1c1c" stroke-width="3"/>
<text transform="translate(595.57,307.05) scale(1.04,1)" font-family="Liberation Sans, sans-serif" font-size="14.5" font-weight="bold" font-style="normal" text-anchor="middle" fill="#1a1a1a" >HV</text>
<line x1="649.2" y1="312.2" x2="644.7" y2="314.0" stroke="#1c1c1c" stroke-width="3"/>
<text transform="translate(630.17,329.54) scale(1.04,1)" font-family="Liberation Sans, sans-serif" font-size="14.5" font-weight="bold" font-style="normal" text-anchor="middle" fill="#1a1a1a" >VH</text>
<line x1="683.8" y1="334.7" x2="679.3" y2="336.4" stroke="#1c1c1c" stroke-width="3"/>
<text transform="translate(664.78,352.03) scale(1.04,1)" font-family="Liberation Sans, sans-serif" font-size="14.5" font-weight="bold" font-style="normal" text-anchor="middle" fill="#1a1a1a" >VV</text>
<line x1="733.3" y1="337.5" x2="737.1" y2="340.0" stroke="#1c1c1c" stroke-width="3"/>
<text transform="translate(749.77,357.38) scale(1.04,1)" font-family="Liberation Sans, sans-serif" font-size="14.5" font-weight="bold" font-style="normal" text-anchor="middle" fill="#1a1a1a" >HH</text>
<line x1="779.0" y1="320.0" x2="782.8" y2="322.5" stroke="#1c1c1c" stroke-width="3"/>
<text transform="translate(795.45,339.86) scale(1.04,1)" font-family="Liberation Sans, sans-serif" font-size="14.5" font-weight="bold" font-style="normal" text-anchor="middle" fill="#1a1a1a" >HV</text>
<line x1="824.6" y1="302.4" x2="828.5" y2="305.0" stroke="#1c1c1c" stroke-width="3"/>
<text transform="translate(841.14,322.33) scale(1.04,1)" font-family="Liberation Sans, sans-serif" font-size="14.5" font-weight="bold" font-style="normal" text-anchor="middle" fill="#1a1a1a" >VH</text>
<line x1="870.3" y1="284.9" x2="874.2" y2="287.4" stroke="#1c1c1c" stroke-width="3"/>
<text transform="translate(886.82,304.81) scale(1.04,1)" font-family="Liberation Sans, sans-serif" font-size="14.5" font-weight="bold" font-style="normal" text-anchor="middle" fill="#1a1a1a" >VV</text>
<text transform="translate(626.00,81.00) scale(0.94,1)" font-family="Liberation Serif, serif" font-size="30" font-weight="normal" font-style="normal" text-anchor="start" fill="#111" >Re</text>
<text transform="translate(658.20,81.60) scale(1.0,1)" font-family="Liberation Serif, serif" font-size="32" font-weight="normal" font-style="normal" text-anchor="start" fill="#111" >(</text>
<text transform="translate(670.50,81.00) scale(1.0,1)" font-family="Liberation Serif, serif" font-size="31" font-weight="normal" font-style="italic" text-anchor="start" fill="#111" >ρ</text>
<path d="M672.3,64.0 l5.0,-4.3 l5.0,4.3" fill="none" stroke="#111" stroke-width="1.6" stroke-linejoin="miter"/>
<text transform="translate(686.60,81.60) scale(1.0,1)" font-family="Liberation Serif, serif" font-size="32" font-weight="normal" font-style="normal" text-anchor="start" fill="#111" >)</text>
<line x1="932.4" y1="253.2" x2="1122.2" y2="180.4" stroke="#1c1c1c" stroke-width="3.5" stroke-linecap="square"/>
<line x1="1122.2" y1="180.4" x2="1268.2" y2="275.3" stroke="#1c1c1c" stroke-width="3.5" stroke-linecap="square"/>
<line x1="1122.2" y1="180.4" x2="1122.2" y2="6.4" stroke="#1c1c1c" stroke-width="3.5" stroke-linecap="square"/>
<polygon points="1086.8,143.3 1121.9,130.0 1148.4,147.5 1113.4,160.8" fill="#7c141a" fill-opacity="0.96" stroke="#37090b" stroke-width="0.5" stroke-opacity="0.7" stroke-linejoin="round"/>
<polygon points="1041.1,160.7 1076.2,147.4 1102.8,164.9 1067.7,178.2" fill="#e8ba24" fill-opacity="0.96" stroke="#685310" stroke-width="0.5" stroke-opacity="0.7" stroke-linejoin="round"/>
<polygon points="1121.4,166.1 1156.5,152.8 1183.0,170.3 1148.0,183.6" fill="#7c141a" fill-opacity="0.96" stroke="#37090b" stroke-width="0.5" stroke-opacity="0.7" stroke-linejoin="round"/>
<polygon points="995.4,178.1 1030.5,164.8 1057.1,182.3 1022.0,195.6" fill="#2cbfdc" fill-opacity="0.96" stroke="#135563" stroke-width="0.5" stroke-opacity="0.7" stroke-linejoin="round"/>
<polygon points="1075.7,183.5 1110.8,170.2 1137.4,187.7 1102.3,201.0" fill="#e8ba24" fill-opacity="0.96" stroke="#685310" stroke-width="0.5" stroke-opacity="0.7" stroke-linejoin="round"/>
<polygon points="1156.0,188.9 1191.1,175.6 1217.6,193.1 1182.6,206.4" fill="#7c141a" fill-opacity="0.96" stroke="#37090b" stroke-width="0.5" stroke-opacity="0.7" stroke-linejoin="round"/>
<polygon points="949.8,195.5 984.9,182.2 1011.4,199.7 976.3,213.0" fill="#1a2474" fill-opacity="0.96" stroke="#0b1034" stroke-width="0.5" stroke-opacity="0.7" stroke-linejoin="round"/>
<polygon points="1030.0,200.9 1065.1,187.6 1091.7,205.1 1056.6,218.4" fill="#2cbfdc" fill-opacity="0.96" stroke="#135563" stroke-width="0.5" stroke-opacity="0.7" stroke-linejoin="round"/>
<polygon points="1110.3,206.3 1145.4,193.0 1172.0,210.5 1136.9,223.8" fill="#e8ba24" fill-opacity="0.96" stroke="#685310" stroke-width="0.5" stroke-opacity="0.7" stroke-linejoin="round"/>
<polygon points="1190.6,211.7 1225.7,198.4 1252.2,215.9 1217.2,229.2" fill="#7c141a" fill-opacity="0.96" stroke="#37090b" stroke-width="0.5" stroke-opacity="0.7" stroke-linejoin="round"/>
<polygon points="984.4,218.3 1019.5,205.0 1046.0,222.5 1010.9,235.8" fill="#1a2474" fill-opacity="0.96" stroke="#0b1034" stroke-width="0.5" stroke-opacity="0.7" stroke-linejoin="round"/>
<polygon points="1064.6,223.7 1099.7,210.4 1126.3,227.9 1091.2,241.2" fill="#2cbfdc" fill-opacity="0.96" stroke="#135563" stroke-width="0.5" stroke-opacity="0.7" stroke-linejoin="round"/>
<polygon points="1144.9,229.1 1180.0,215.8 1206.6,233.3 1171.5,246.6" fill="#e8ba24" fill-opacity="0.96" stroke="#685310" stroke-width="0.5" stroke-opacity="0.7" stroke-linejoin="round"/>
<polygon points="1019.0,241.1 1054.1,227.8 1080.6,245.3 1045.5,258.6" fill="#1a2474" fill-opacity="0.96" stroke="#0b1034" stroke-width="0.5" stroke-opacity="0.7" stroke-linejoin="round"/>
<polygon points="1099.2,246.5 1134.3,233.2 1160.9,250.7 1125.8,264.0" fill="#2cbfdc" fill-opacity="0.96" stroke="#135563" stroke-width="0.5" stroke-opacity="0.7" stroke-linejoin="round"/>
<polygon points="1053.6,263.9 1088.7,250.6 1115.2,268.1 1080.1,281.4" fill="#1a2474" fill-opacity="0.96" stroke="#0b1034" stroke-width="0.5" stroke-opacity="0.7" stroke-linejoin="round"/>
<line x1="932.4" y1="253.2" x2="1078.4" y2="348.1" stroke="#1c1c1c" stroke-width="3.5" stroke-linecap="square"/>
<line x1="1078.4" y1="348.1" x2="1268.2" y2="275.3" stroke="#1c1c1c" stroke-width="3.5" stroke-linecap="square"/>
<line x1="932.4" y1="253.2" x2="932.4" y2="79.2" stroke="#1c1c1c" stroke-width="3.5" stroke-linecap="square"/>
<line x1="1268.2" y1="275.3" x2="1268.2" y2="101.3" stroke="#1c1c1c" stroke-width="3.5" stroke-linecap="square"/>
<line x1="932.4" y1="79.2" x2="1122.2" y2="6.4" stroke="#1c1c1c" stroke-width="3.5" stroke-linecap="square"/>
<line x1="1122.2" y1="6.4" x2="1268.2" y2="101.3" stroke="#1c1c1c" stroke-width="3.5" stroke-linecap="square"/>
<line x1="931.4" y1="79.0" x2="928.0" y2="77.2" stroke="#1c1c1c" stroke-width="3"/>
<text transform="translate(924.20,80.10) scale(1.07,1)" font-family="Liberation Sans, sans-serif" font-size="14" font-weight="bold" font-style="normal" text-anchor="end" fill="#1a1a1a" >1</text>
<line x1="931.4" y1="102.0" x2="928.0" y2="100.2" stroke="#1c1c1c" stroke-width="3"/>
<text transform="translate(924.20,103.15) scale(1.07,1)" font-family="Liberation Sans, sans-serif" font-size="14" font-weight="bold" font-style="normal" text-anchor="end" fill="#1a1a1a" >0.8</text>
<line x1="931.4" y1="125.1" x2="928.0" y2="123.3" stroke="#1c1c1c" stroke-width="3"/>
<text transform="translate(924.20,126.20) scale(1.07,1)" font-family="Liberation Sans, sans-serif" font-size="14" font-weight="bold" font-style="normal" text-anchor="end" fill="#1a1a1a" >0.6</text>
<line x1="931.4" y1="148.2" x2="928.0" y2="146.3" stroke="#1c1c1c" stroke-width="3"/>
<text transform="translate(924.20,149.25) scale(1.07,1)" font-family="Liberation Sans, sans-serif" font-size="14" font-weight="bold" font-style="normal" text-anchor="end" fill="#1a1a1a" >0.4</text>
<line x1="931.4" y1="171.2" x2="928.0" y2="169.4" stroke="#1c1c1c" stroke-width="3"/>
<text transform="translate(924.20,172.30) scale(1.07,1)" font-family="Liberation Sans, sans-serif" font-size="14" font-weight="bold" font-style="normal" text-anchor="end" fill="#1a1a1a" >0.2</text>
<line x1="931.4" y1="194.2" x2="928.0" y2="192.4" stroke="#1c1c1c" stroke-width="3"/>
<text transform="translate(924.20,195.35) scale(1.07,1)" font-family="Liberation Sans, sans-serif" font-size="14" font-weight="bold" font-style="normal" text-anchor="end" fill="#1a1a1a" >0</text>
<line x1="931.4" y1="217.3" x2="928.0" y2="215.5" stroke="#1c1c1c" stroke-width="3"/>
<text transform="translate(924.20,218.40) scale(1.07,1)" font-family="Liberation Sans, sans-serif" font-size="14" font-weight="bold" font-style="normal" text-anchor="end" fill="#1a1a1a" >-0.2</text>
<line x1="931.4" y1="240.3" x2="928.0" y2="238.5" stroke="#1c1c1c" stroke-width="3"/>
<text transform="translate(924.20,241.45) scale(1.07,1)" font-family="Liberation Sans, sans-serif" font-size="14" font-weight="bold" font-style="normal" text-anchor="end" fill="#1a1a1a" >-0.4</text>
<line x1="953.6" y1="267.0" x2="949.1" y2="268.7" stroke="#1c1c1c" stroke-width="3"/>
<text transform="translate(934.57,284.26) scale(1.04,1)" font-family="Liberation Sans, sans-serif" font-size="14.5" font-weight="bold" font-style="normal" text-anchor="middle" fill="#1a1a1a" >HH</text>
<line x1="988.2" y1="289.5" x2="983.7" y2="291.2" stroke="#1c1c1c" stroke-width="3"/>
<text transform="translate(969.17,306.75) scale(1.04,1)" font-family="Liberation Sans, sans-serif" font-size="14.5" font-weight="bold" font-style="normal" text-anchor="middle" fill="#1a1a1a" >HV</text>
<line x1="1022.8" y1="311.9" x2="1018.3" y2="313.7" stroke="#1c1c1c" stroke-width="3"/>
<text transform="translate(1003.77,329.24) scale(1.04,1)" font-family="Liberation Sans, sans-serif" font-size="14.5" font-weight="bold" font-style="normal" text-anchor="middle" fill="#1a1a1a" >VH</text>
<line x1="1057.4" y1="334.4" x2="1052.9" y2="336.1" stroke="#1c1c1c" stroke-width="3"/>
<text transform="translate(1038.38,351.73) scale(1.04,1)" font-family="Liberation Sans, sans-serif" font-size="14.5" font-weight="bold" font-style="normal" text-anchor="middle" fill="#1a1a1a" >VV</text>
<line x1="1106.9" y1="337.2" x2="1110.7" y2="339.7" stroke="#1c1c1c" stroke-width="3"/>
<text transform="translate(1123.37,357.08) scale(1.04,1)" font-family="Liberation Sans, sans-serif" font-size="14.5" font-weight="bold" font-style="normal" text-anchor="middle" fill="#1a1a1a" >HH</text>
<line x1="1152.6" y1="319.7" x2="1156.4" y2="322.2" stroke="#1c1c1c" stroke-width="3"/>
<text transform="translate(1169.05,339.56) scale(1.04,1)" font-family="Liberation Sans, sans-serif" font-size="14.5" font-weight="bold" font-style="normal" text-anchor="middle" fill="#1a1a1a" >HV</text>
<line x1="1198.2" y1="302.1" x2="1202.1" y2="304.7" stroke="#1c1c1c" stroke-width="3"/>
<text transform="translate(1214.74,322.03) scale(1.04,1)" font-family="Liberation Sans, sans-serif" font-size="14.5" font-weight="bold" font-style="normal" text-anchor="middle" fill="#1a1a1a" >VH</text>
<line x1="1243.9" y1="284.6" x2="1247.8" y2="287.1" stroke="#1c1c1c" stroke-width="3"/>
<text transform="translate(1260.42,304.51) scale(1.04,1)" font-family="Liberation Sans, sans-serif" font-size="14.5" font-weight="bold" font-style="normal" text-anchor="middle" fill="#1a1a1a" >VV</text>
<text transform="translate(1007.60,81.30) scale(1.0,1)" font-family="Liberation Serif, serif" font-size="30" font-weight="normal" font-style="normal" text-anchor="start" fill="#111" >Im</text>
<text transform="translate(1042.90,81.90) scale(1.0,1)" font-family="Liberation Serif, serif" font-size="32" font-weight="normal" font-style="normal" text-anchor="start" fill="#111" >(</text>
<text transform="translate(1054.20,81.30) scale(1.0,1)" font-family="Liberation Serif, serif" font-size="31" font-weight="normal" font-style="italic" text-anchor="start" fill="#111" >ρ</text>
<path d="M1055.9,64.3 l5.0,-4.3 l5.0,4.3" fill="none" stroke="#111" stroke-width="1.6" stroke-linejoin="miter"/>
<text transform="translate(1070.60,81.90) scale(1.0,1)" font-family="Liberation Serif, serif" font-size="32" font-weight="normal" font-style="normal" text-anchor="start" fill="#111" >)</text>
<line x1="559.3" y1="606.5" x2="749.9" y2="535.3" stroke="#1c1c1c" stroke-width="3.5" stroke-linecap="square"/>
<line x1="749.9" y1="535.3" x2="895.1" y2="628.6" stroke="#1c1c1c" stroke-width="3.5" stroke-linecap="square"/>
<line x1="749.9" y1="535.3" x2="749.9" y2="361.3" stroke="#1c1c1c" stroke-width="3.5" stroke-linecap="square"/>
<polygon points="712.6,497.3 748.9,483.4 776.5,501.5 740.1,515.4" fill="#b20f18" fill-opacity="0.6"/>
<polygon points="712.6,497.3 748.9,483.4 748.9,430.3 712.6,444.1" fill="#a00d15" fill-opacity="0.6"/>
<polygon points="748.9,483.4 776.5,501.5 776.5,448.4 748.9,430.3" fill="#8e0c13" fill-opacity="0.6"/>
<polygon points="712.6,497.3 740.1,515.4 740.1,462.3 712.6,444.1" fill="#b20f18" fill-opacity="0.95" stroke="#50060a" stroke-width="0.7" stroke-opacity="0.55" stroke-linejoin="round"/>
<polygon points="740.1,515.4 776.5,501.5 776.5,448.4 740.1,462.3" fill="#a50d16" fill-opacity="0.95" stroke="#50060a" stroke-width="0.7" stroke-opacity="0.55" stroke-linejoin="round"/>
<polygon points="712.6,444.1 748.9,430.3 776.5,448.4 740.1,462.3" fill="#ac0e17" fill-opacity="0.95" stroke="#50060a" stroke-width="0.7" stroke-opacity="0.55" stroke-linejoin="round"/>
<polygon points="740.1,515.4 776.5,501.5 748.9,483.4 740.1,486.8" fill="#000" fill-opacity="0.1"/>
<polygon points="712.6,497.3 740.1,515.4 740.1,486.8" fill="#fff" fill-opacity="0.07"/>
<polygon points="668.0,514.7 703.1,501.4 729.7,518.9 694.6,532.2" fill="#f0c840" fill-opacity="0.95" stroke="#6c5a1c" stroke-width="0.5" stroke-opacity="0.7" stroke-linejoin="round"/>
<polygon points="747.2,522.0 783.5,508.2 811.1,526.3 774.7,540.2" fill="#8c161c" fill-opacity="0.5"/>
<polygon points="747.2,522.0 783.5,508.2 783.5,506.2 747.2,520.1" fill="#7e1319" fill-opacity="0.5"/>
<polygon points="783.5,508.2 811.1,526.3 811.1,524.3 783.5,506.2" fill="#701116" fill-opacity="0.5"/>
<polygon points="747.2,522.0 774.7,540.2 774.7,538.2 747.2,520.1" fill="#8c161c" fill-opacity="0.93" stroke="#3f090c" stroke-width="0.7" stroke-opacity="0.55" stroke-linejoin="round"/>
<polygon points="774.7,540.2 811.1,526.3 811.1,524.3 774.7,538.2" fill="#82141a" fill-opacity="0.93" stroke="#3f090c" stroke-width="0.7" stroke-opacity="0.55" stroke-linejoin="round"/>
<polygon points="747.2,520.1 783.5,506.2 811.1,524.3 774.7,538.2" fill="#87151b" fill-opacity="0.93" stroke="#3f090c" stroke-width="0.7" stroke-opacity="0.55" stroke-linejoin="round"/>
<polygon points="621.2,534.1 657.6,520.3 685.1,538.4 648.8,552.3" fill="#48c4dd" fill-opacity="0.5"/>
<polygon points="621.2,534.1 657.6,520.3 657.6,518.2 621.2,532.1" fill="#40b0c6" fill-opacity="0.5"/>
<polygon points="657.6,520.3 685.1,538.4 685.1,536.3 657.6,518.2" fill="#399cb0" fill-opacity="0.5"/>
<polygon points="621.2,534.1 648.8,552.3 648.8,550.2 621.2,532.1" fill="#48c4dd" fill-opacity="0.9" stroke="#205863" stroke-width="0.7" stroke-opacity="0.55" stroke-linejoin="round"/>
<polygon points="648.8,552.3 685.1,538.4 685.1,536.3 648.8,550.2" fill="#42b6cd" fill-opacity="0.9" stroke="#205863" stroke-width="0.7" stroke-opacity="0.55" stroke-linejoin="round"/>
<polygon points="621.2,532.1 657.6,518.2 685.1,536.3 648.8,550.2" fill="#45bed6" fill-opacity="0.9" stroke="#205863" stroke-width="0.7" stroke-opacity="0.55" stroke-linejoin="round"/>
<polygon points="701.5,537.5 737.8,523.6 765.4,541.7 729.0,555.6" fill="#f4d41c" fill-opacity="0.5"/>
<polygon points="701.5,537.5 737.8,523.6 737.8,522.2 701.5,536.1" fill="#dbbe19" fill-opacity="0.5"/>
<polygon points="737.8,523.6 765.4,541.7 765.4,540.4 737.8,522.2" fill="#c3a916" fill-opacity="0.5"/>
<polygon points="701.5,537.5 729.0,555.6 729.0,554.2 701.5,536.1" fill="#f4d41c" fill-opacity="0.9" stroke="#6d5f0c" stroke-width="0.7" stroke-opacity="0.55" stroke-linejoin="round"/>
<polygon points="729.0,555.6 765.4,541.7 765.4,540.4 729.0,554.2" fill="#e2c51a" fill-opacity="0.9" stroke="#6d5f0c" stroke-width="0.7" stroke-opacity="0.55" stroke-linejoin="round"/>
<polygon points="701.5,536.1 737.8,522.2 765.4,540.4 729.0,554.2" fill="#eccd1b" fill-opacity="0.9" stroke="#6d5f0c" stroke-width="0.7" stroke-opacity="0.55" stroke-linejoin="round"/>
<polygon points="781.8,543.8 818.1,529.9 845.7,548.1 809.3,561.9" fill="#a0181e" fill-opacity="0.5"/>
<polygon points="781.8,543.8 818.1,529.9 818.1,529.0 781.8,542.9" fill="#90151b" fill-opacity="0.5"/>
<polygon points="818.1,529.9 845.7,548.1 845.7,547.1 818.1,529.0" fill="#801318" fill-opacity="0.5"/>
<polygon points="781.8,543.8 809.3,561.9 809.3,561.0 781.8,542.9" fill="#a0181e" fill-opacity="0.93" stroke="#480a0d" stroke-width="0.7" stroke-opacity="0.55" stroke-linejoin="round"/>
<polygon points="809.3,561.9 845.7,548.1 845.7,547.1 809.3,561.0" fill="#94161b" fill-opacity="0.93" stroke="#480a0d" stroke-width="0.7" stroke-opacity="0.55" stroke-linejoin="round"/>
<polygon points="781.8,542.9 818.1,529.0 845.7,547.1 809.3,561.0" fill="#9b171d" fill-opacity="0.93" stroke="#480a0d" stroke-width="0.7" stroke-opacity="0.55" stroke-linejoin="round"/>
<polygon points="575.6,549.5 611.9,535.6 639.4,553.7 603.1,567.6" fill="#1530aa" fill-opacity="0.6"/>
<polygon points="575.6,549.5 611.9,535.6 611.9,481.9 575.6,495.7" fill="#122b99" fill-opacity="0.6"/>
<polygon points="611.9,535.6 639.4,553.7 639.4,500.0 611.9,481.9" fill="#102688" fill-opacity="0.6"/>
<polygon points="575.6,549.5 603.1,567.6 603.1,513.9 575.6,495.7" fill="#1530aa" fill-opacity="0.95" stroke="#09154c" stroke-width="0.7" stroke-opacity="0.55" stroke-linejoin="round"/>
<polygon points="603.1,567.6 639.4,553.7 639.4,500.0 603.1,513.9" fill="#132c9e" fill-opacity="0.95" stroke="#09154c" stroke-width="0.7" stroke-opacity="0.55" stroke-linejoin="round"/>
<polygon points="575.6,495.7 611.9,481.9 639.4,500.0 603.1,513.9" fill="#142ea4" fill-opacity="0.95" stroke="#09154c" stroke-width="0.7" stroke-opacity="0.55" stroke-linejoin="round"/>
<polygon points="603.1,567.6 639.4,553.7 611.9,535.6 603.1,539.0" fill="#000" fill-opacity="0.1"/>
<polygon points="575.6,549.5 603.1,567.6 603.1,539.0" fill="#fff" fill-opacity="0.07"/>
<polygon points="655.8,556.2 692.2,542.4 719.7,560.5 683.4,574.4" fill="#48c4dd" fill-opacity="0.5"/>
<polygon points="655.8,556.2 692.2,542.4 692.2,541.0 655.8,554.9" fill="#40b0c6" fill-opacity="0.5"/>
<polygon points="692.2,542.4 719.7,560.5 719.7,559.1 692.2,541.0" fill="#399cb0" fill-opacity="0.5"/>
<polygon points="655.8,556.2 683.4,574.4 683.4,573.0 655.8,554.9" fill="#48c4dd" fill-opacity="0.9" stroke="#205863" stroke-width="0.7" stroke-opacity="0.55" stroke-linejoin="round"/>
<polygon points="683.4,574.4 719.7,560.5 719.7,559.1 683.4,573.0" fill="#42b6cd" fill-opacity="0.9" stroke="#205863" stroke-width="0.7" stroke-opacity="0.55" stroke-linejoin="round"/>
<polygon points="655.8,554.9 692.2,541.0 719.7,559.1 683.4,573.0" fill="#45bed6" fill-opacity="0.9" stroke="#205863" stroke-width="0.7" stroke-opacity="0.55" stroke-linejoin="round"/>
<polygon points="736.1,560.3 772.4,546.4 800.0,564.5 763.6,578.4" fill="#f4d41c" fill-opacity="0.5"/>
<polygon points="736.1,560.3 772.4,546.4 772.4,544.7 736.1,558.5" fill="#dbbe19" fill-opacity="0.5"/>
<polygon points="772.4,546.4 800.0,564.5 800.0,562.8 772.4,544.7" fill="#c3a916" fill-opacity="0.5"/>
<polygon points="736.1,560.3 763.6,578.4 763.6,576.7 736.1,558.5" fill="#f4d41c" fill-opacity="0.9" stroke="#6d5f0c" stroke-width="0.7" stroke-opacity="0.55" stroke-linejoin="round"/>
<polygon points="763.6,578.4 800.0,564.5 800.0,562.8 763.6,576.7" fill="#e2c51a" fill-opacity="0.9" stroke="#6d5f0c" stroke-width="0.7" stroke-opacity="0.55" stroke-linejoin="round"/>
<polygon points="736.1,558.5 772.4,544.7 800.0,562.8 763.6,576.7" fill="#eccd1b" fill-opacity="0.9" stroke="#6d5f0c" stroke-width="0.7" stroke-opacity="0.55" stroke-linejoin="round"/>
<polygon points="816.4,565.7 852.7,551.8 880.3,569.9 843.9,583.8" fill="#b20f18" fill-opacity="0.6"/>
<polygon points="816.4,565.7 852.7,551.8 852.7,496.4 816.4,510.2" fill="#a00d15" fill-opacity="0.6"/>
<polygon points="852.7,551.8 880.3,569.9 880.3,514.5 852.7,496.4" fill="#8e0c13" fill-opacity="0.6"/>
<polygon points="816.4,565.7 843.9,583.8 843.9,528.4 816.4,510.2" fill="#b20f18" fill-opacity="0.95" stroke="#50060a" stroke-width="0.7" stroke-opacity="0.55" stroke-linejoin="round"/>
<polygon points="843.9,583.8 880.3,569.9 880.3,514.5 843.9,528.4" fill="#a50d16" fill-opacity="0.95" stroke="#50060a" stroke-width="0.7" stroke-opacity="0.55" stroke-linejoin="round"/>
<polygon points="816.4,510.2 852.7,496.4 880.3,514.5 843.9,528.4" fill="#ac0e17" fill-opacity="0.95" stroke="#50060a" stroke-width="0.7" stroke-opacity="0.55" stroke-linejoin="round"/>
<polygon points="843.9,583.8 880.3,569.9 852.7,551.8 843.9,555.2" fill="#000" fill-opacity="0.1"/>
<polygon points="816.4,565.7 843.9,583.8 843.9,555.2" fill="#fff" fill-opacity="0.07"/>
<polygon points="610.2,573.4 646.5,559.6 674.0,577.7 637.7,591.6" fill="#15268a" fill-opacity="0.5"/>
<polygon points="610.2,573.4 646.5,559.6 646.5,558.4 610.2,572.3" fill="#12227c" fill-opacity="0.5"/>
<polygon points="646.5,559.6 674.0,577.7 674.0,576.5 646.5,558.4" fill="#101e6e" fill-opacity="0.5"/>
<polygon points="610.2,573.4 637.7,591.6 637.7,590.4 610.2,572.3" fill="#15268a" fill-opacity="0.93" stroke="#09113e" stroke-width="0.7" stroke-opacity="0.55" stroke-linejoin="round"/>
<polygon points="637.7,591.6 674.0,577.7 674.0,576.5 637.7,590.4" fill="#132380" fill-opacity="0.93" stroke="#09113e" stroke-width="0.7" stroke-opacity="0.55" stroke-linejoin="round"/>
<polygon points="610.2,572.3 646.5,558.4 674.0,576.5 637.7,590.4" fill="#142485" fill-opacity="0.93" stroke="#09113e" stroke-width="0.7" stroke-opacity="0.55" stroke-linejoin="round"/>
<polygon points="690.4,578.8 726.8,565.0 754.3,583.1 718.0,597.0" fill="#48c4dd" fill-opacity="0.5"/>
<polygon points="690.4,578.8 726.8,565.0 726.8,563.8 690.4,577.7" fill="#40b0c6" fill-opacity="0.5"/>
<polygon points="726.8,565.0 754.3,583.1 754.3,581.9 726.8,563.8" fill="#399cb0" fill-opacity="0.5"/>
<polygon points="690.4,578.8 718.0,597.0 718.0,595.8 690.4,577.7" fill="#48c4dd" fill-opacity="0.9" stroke="#205863" stroke-width="0.7" stroke-opacity="0.55" stroke-linejoin="round"/>
<polygon points="718.0,597.0 754.3,583.1 754.3,581.9 718.0,595.8" fill="#42b6cd" fill-opacity="0.9" stroke="#205863" stroke-width="0.7" stroke-opacity="0.55" stroke-linejoin="round"/>
<polygon points="690.4,577.7 726.8,563.8 754.3,581.9 718.0,595.8" fill="#45bed6" fill-opacity="0.9" stroke="#205863" stroke-width="0.7" stroke-opacity="0.55" stroke-linejoin="round"/>
<polygon points="770.7,583.1 807.0,569.2 834.6,587.3 798.2,601.2" fill="#f4d41c" fill-opacity="0.5"/>
<polygon points="770.7,583.1 807.0,569.2 807.0,567.7 770.7,581.5" fill="#dbbe19" fill-opacity="0.5"/>
<polygon points="807.0,569.2 834.6,587.3 834.6,585.8 807.0,567.7" fill="#c3a916" fill-opacity="0.5"/>
<polygon points="770.7,583.1 798.2,601.2 798.2,599.7 770.7,581.5" fill="#f4d41c" fill-opacity="0.9" stroke="#6d5f0c" stroke-width="0.7" stroke-opacity="0.55" stroke-linejoin="round"/>
<polygon points="798.2,601.2 834.6,587.3 834.6,585.8 798.2,599.7" fill="#e2c51a" fill-opacity="0.9" stroke="#6d5f0c" stroke-width="0.7" stroke-opacity="0.55" stroke-linejoin="round"/>
<polygon points="770.7,581.5 807.0,567.7 834.6,585.8 798.2,599.7" fill="#eccd1b" fill-opacity="0.9" stroke="#6d5f0c" stroke-width="0.7" stroke-opacity="0.55" stroke-linejoin="round"/>
<polygon points="645.9,595.1 681.0,581.8 707.5,599.3 672.4,612.6" fill="#3d3a9e" fill-opacity="0.9" stroke="#1b1a47" stroke-width="0.5" stroke-opacity="0.7" stroke-linejoin="round"/>
<polygon points="725.0,603.6 761.4,589.7 788.9,607.9 752.6,621.7" fill="#48c4dd" fill-opacity="0.5"/>
<polygon points="725.0,603.6 761.4,589.7 761.4,586.6 725.0,600.5" fill="#40b0c6" fill-opacity="0.5"/>
<polygon points="761.4,589.7 788.9,607.9 788.9,604.7 761.4,586.6" fill="#399cb0" fill-opacity="0.5"/>
<polygon points="725.0,603.6 752.6,621.7 752.6,618.6 725.0,600.5" fill="#48c4dd" fill-opacity="0.9" stroke="#205863" stroke-width="0.7" stroke-opacity="0.55" stroke-linejoin="round"/>
<polygon points="752.6,621.7 788.9,607.9 788.9,604.7 752.6,618.6" fill="#42b6cd" fill-opacity="0.9" stroke="#205863" stroke-width="0.7" stroke-opacity="0.55" stroke-linejoin="round"/>
<polygon points="725.0,600.5 761.4,586.6 788.9,604.7 752.6,618.6" fill="#45bed6" fill-opacity="0.9" stroke="#205863" stroke-width="0.7" stroke-opacity="0.55" stroke-linejoin="round"/>
<polygon points="679.4,617.9 715.7,604.0 743.2,622.1 706.9,636.0" fill="#1530aa" fill-opacity="0.6"/>
<polygon points="679.4,617.9 715.7,604.0 715.7,552.8 679.4,566.7" fill="#122b99" fill-opacity="0.6"/>
<polygon points="715.7,604.0 743.2,622.1 743.2,571.0 715.7,552.8" fill="#102688" fill-opacity="0.6"/>
<polygon points="679.4,617.9 706.9,636.0 706.9,584.8 679.4,566.7" fill="#1530aa" fill-opacity="0.95" stroke="#09154c" stroke-width="0.7" stroke-opacity="0.55" stroke-linejoin="round"/>
<polygon points="706.9,636.0 743.2,622.1 743.2,571.0 706.9,584.8" fill="#132c9e" fill-opacity="0.95" stroke="#09154c" stroke-width="0.7" stroke-opacity="0.55" stroke-linejoin="round"/>
<polygon points="679.4,566.7 715.7,552.8 743.2,571.0 706.9,584.8" fill="#142ea4" fill-opacity="0.95" stroke="#09154c" stroke-width="0.7" stroke-opacity="0.55" stroke-linejoin="round"/>
<polygon points="706.9,636.0 743.2,622.1 715.7,604.0 706.9,607.4" fill="#000" fill-opacity="0.1"/>
<polygon points="679.4,617.9 706.9,636.0 706.9,607.4" fill="#fff" fill-opacity="0.07"/>
<line x1="559.3" y1="606.5" x2="705.3" y2="701.4" stroke="#1c1c1c" stroke-width="3.5" stroke-linecap="square"/>
<line x1="705.3" y1="701.4" x2="895.1" y2="628.6" stroke="#1c1c1c" stroke-width="3.5" stroke-linecap="square"/>
<line x1="559.3" y1="606.5" x2="559.3" y2="432.5" stroke="#1c1c1c" stroke-width="3.5" stroke-linecap="square"/>
<line x1="895.1" y1="628.6" x2="895.1" y2="454.6" stroke="#1c1c1c" stroke-width="3.5" stroke-linecap="square"/>
<line x1="559.3" y1="432.5" x2="749.9" y2="361.3" stroke="#1c1c1c" stroke-width="3.5" stroke-linecap="square"/>
<line x1="749.9" y1="361.3" x2="895.1" y2="454.6" stroke="#1c1c1c" stroke-width="3.5" stroke-linecap="square"/>
<line x1="558.3" y1="432.3" x2="554.9" y2="430.5" stroke="#1c1c1c" stroke-width="3"/>
<text transform="translate(551.10,433.40) scale(1.07,1)" font-family="Liberation Sans, sans-serif" font-size="14" font-weight="bold" font-style="normal" text-anchor="end" fill="#1a1a1a" >1</text>
<line x1="558.3" y1="455.4" x2="554.9" y2="453.6" stroke="#1c1c1c" stroke-width="3"/>
<text transform="translate(551.10,456.45) scale(1.07,1)" font-family="Liberation Sans, sans-serif" font-size="14" font-weight="bold" font-style="normal" text-anchor="end" fill="#1a1a1a" >0.8</text>
<line x1="558.3" y1="478.4" x2="554.9" y2="476.6" stroke="#1c1c1c" stroke-width="3"/>
<text transform="translate(551.10,479.50) scale(1.07,1)" font-family="Liberation Sans, sans-serif" font-size="14" font-weight="bold" font-style="normal" text-anchor="end" fill="#1a1a1a" >0.6</text>
<line x1="558.3" y1="501.4" x2="554.9" y2="499.6" stroke="#1c1c1c" stroke-width="3"/>
<text transform="translate(551.10,502.55) scale(1.07,1)" font-family="Liberation Sans, sans-serif" font-size="14" font-weight="bold" font-style="normal" text-anchor="end" fill="#1a1a1a" >0.4</text>
<line x1="558.3" y1="524.5" x2="554.9" y2="522.7" stroke="#1c1c1c" stroke-width="3"/>
<text transform="translate(551.10,525.60) scale(1.07,1)" font-family="Liberation Sans, sans-serif" font-size="14" font-weight="bold" font-style="normal" text-anchor="end" fill="#1a1a1a" >0.2</text>
<line x1="558.3" y1="547.5" x2="554.9" y2="545.8" stroke="#1c1c1c" stroke-width="3"/>
<text transform="translate(551.10,548.65) scale(1.07,1)" font-family="Liberation Sans, sans-serif" font-size="14" font-weight="bold" font-style="normal" text-anchor="end" fill="#1a1a1a" >0</text>
<line x1="558.3" y1="570.6" x2="554.9" y2="568.8" stroke="#1c1c1c" stroke-width="3"/>
<text transform="translate(551.10,571.70) scale(1.07,1)" font-family="Liberation Sans, sans-serif" font-size="14" font-weight="bold" font-style="normal" text-anchor="end" fill="#1a1a1a" >-0.2</text>
<line x1="558.3" y1="593.6" x2="554.9" y2="591.9" stroke="#1c1c1c" stroke-width="3"/>
<text transform="translate(551.10,594.75) scale(1.07,1)" font-family="Liberation Sans, sans-serif" font-size="14" font-weight="bold" font-style="normal" text-anchor="end" fill="#1a1a1a" >-0.4</text>
<line x1="580.5" y1="620.3" x2="576.0" y2="622.0" stroke="#1c1c1c" stroke-width="3"/>
<text transform="translate(561.47,638.26) scale(1.04,1)" font-family="Liberation Sans, sans-serif" font-size="14.5" font-weight="bold" font-style="normal" text-anchor="middle" fill="#1a1a1a" >HH</text>
<line x1="615.1" y1="642.8" x2="610.6" y2="644.5" stroke="#1c1c1c" stroke-width="3"/>
<text transform="translate(596.07,660.75) scale(1.04,1)" font-family="Liberation Sans, sans-serif" font-size="14.5" font-weight="bold" font-style="normal" text-anchor="middle" fill="#1a1a1a" >HV</text>
<line x1="649.7" y1="665.2" x2="645.2" y2="667.0" stroke="#1c1c1c" stroke-width="3"/>
<text transform="translate(630.67,683.24) scale(1.04,1)" font-family="Liberation Sans, sans-serif" font-size="14.5" font-weight="bold" font-style="normal" text-anchor="middle" fill="#1a1a1a" >VH</text>
<line x1="684.3" y1="687.7" x2="679.8" y2="689.4" stroke="#1c1c1c" stroke-width="3"/>
<text transform="translate(665.28,705.73) scale(1.04,1)" font-family="Liberation Sans, sans-serif" font-size="14.5" font-weight="bold" font-style="normal" text-anchor="middle" fill="#1a1a1a" >VV</text>
<line x1="733.8" y1="690.5" x2="737.6" y2="693.0" stroke="#1c1c1c" stroke-width="3"/>
<text transform="translate(750.27,711.08) scale(1.04,1)" font-family="Liberation Sans, sans-serif" font-size="14.5" font-weight="bold" font-style="normal" text-anchor="middle" fill="#1a1a1a" >HH</text>
<line x1="779.5" y1="673.0" x2="783.3" y2="675.5" stroke="#1c1c1c" stroke-width="3"/>
<text transform="translate(795.95,693.56) scale(1.04,1)" font-family="Liberation Sans, sans-serif" font-size="14.5" font-weight="bold" font-style="normal" text-anchor="middle" fill="#1a1a1a" >HV</text>
<line x1="825.1" y1="655.4" x2="829.0" y2="658.0" stroke="#1c1c1c" stroke-width="3"/>
<text transform="translate(841.64,676.03) scale(1.04,1)" font-family="Liberation Sans, sans-serif" font-size="14.5" font-weight="bold" font-style="normal" text-anchor="middle" fill="#1a1a1a" >VH</text>
<line x1="870.8" y1="637.9" x2="874.7" y2="640.4" stroke="#1c1c1c" stroke-width="3"/>
<text transform="translate(887.32,658.51) scale(1.04,1)" font-family="Liberation Sans, sans-serif" font-size="14.5" font-weight="bold" font-style="normal" text-anchor="middle" fill="#1a1a1a" >VV</text>
<text transform="translate(626.00,441.00) scale(0.94,1)" font-family="Liberation Serif, serif" font-size="30" font-weight="normal" font-style="normal" text-anchor="start" fill="#111" >Re</text>
<text transform="translate(658.20,441.60) scale(1.0,1)" font-family="Liberation Serif, serif" font-size="32" font-weight="normal" font-style="normal" text-anchor="start" fill="#111" >(</text>
<text transform="translate(670.50,441.00) scale(1.0,1)" font-family="Liberation Serif, serif" font-size="31" font-weight="normal" font-style="italic" text-anchor="start" fill="#111" >ρ</text>
<path d="M672.3,424.0 l5.0,-4.3 l5.0,4.3" fill="none" stroke="#111" stroke-width="1.6" stroke-linejoin="miter"/>
<text transform="translate(686.60,441.60) scale(1.0,1)" font-family="Liberation Serif, serif" font-size="32" font-weight="normal" font-style="normal" text-anchor="start" fill="#111" >)</text>
<line x1="932.9" y1="606.2" x2="1123.1" y2="535.0" stroke="#1c1c1c" stroke-width="3.5" stroke-linecap="square"/>
<line x1="1123.1" y1="535.0" x2="1268.7" y2="628.3" stroke="#1c1c1c" stroke-width="3.5" stroke-linecap="square"/>
<line x1="1123.1" y1="535.0" x2="1123.1" y2="361.0" stroke="#1c1c1c" stroke-width="3.5" stroke-linecap="square"/>
<polygon points="1087.3,497.0 1122.4,483.7 1148.9,501.2 1113.9,514.5" fill="#7c141a" fill-opacity="0.95" stroke="#37090b" stroke-width="0.5" stroke-opacity="0.7" stroke-linejoin="round"/>
<polygon points="1040.5,517.1 1076.8,503.3 1104.4,521.4 1068.0,535.3" fill="#f0c62c" fill-opacity="0.5"/>
<polygon points="1040.5,517.1 1076.8,503.3 1076.8,500.5 1040.5,514.4" fill="#d8b227" fill-opacity="0.5"/>
<polygon points="1076.8,503.3 1104.4,521.4 1104.4,518.6 1076.8,500.5" fill="#c09e23" fill-opacity="0.5"/>
<polygon points="1040.5,517.1 1068.0,535.3 1068.0,532.5 1040.5,514.4" fill="#f0c62c" fill-opacity="0.9" stroke="#6c5913" stroke-width="0.7" stroke-opacity="0.55" stroke-linejoin="round"/>
<polygon points="1068.0,535.3 1104.4,521.4 1104.4,518.6 1068.0,532.5" fill="#dfb828" fill-opacity="0.9" stroke="#6c5913" stroke-width="0.7" stroke-opacity="0.55" stroke-linejoin="round"/>
<polygon points="1040.5,514.4 1076.8,500.5 1104.4,518.6 1068.0,532.5" fill="#e8c02a" fill-opacity="0.9" stroke="#6c5913" stroke-width="0.7" stroke-opacity="0.55" stroke-linejoin="round"/>
<polygon points="1120.8,519.8 1157.1,505.9 1184.7,524.0 1148.3,537.9" fill="#a8161e" fill-opacity="0.5"/>
<polygon points="1120.8,519.8 1157.1,505.9 1157.1,502.3 1120.8,516.2" fill="#97131b" fill-opacity="0.5"/>
<polygon points="1157.1,505.9 1184.7,524.0 1184.7,520.5 1157.1,502.3" fill="#861118" fill-opacity="0.5"/>
<polygon points="1120.8,519.8 1148.3,537.9 1148.3,534.3 1120.8,516.2" fill="#a8161e" fill-opacity="0.9" stroke="#4b090d" stroke-width="0.7" stroke-opacity="0.55" stroke-linejoin="round"/>
<polygon points="1148.3,537.9 1184.7,524.0 1184.7,520.5 1148.3,534.3" fill="#9c141b" fill-opacity="0.9" stroke="#4b090d" stroke-width="0.7" stroke-opacity="0.55" stroke-linejoin="round"/>
<polygon points="1120.8,516.2 1157.1,502.3 1184.7,520.5 1148.3,534.3" fill="#a2151d" fill-opacity="0.9" stroke="#4b090d" stroke-width="0.7" stroke-opacity="0.55" stroke-linejoin="round"/>
<polygon points="994.8,533.7 1031.2,519.9 1058.7,538.0 1022.4,551.9" fill="#58cae2" fill-opacity="0.5"/>
<polygon points="994.8,533.7 1031.2,519.9 1031.2,517.9 994.8,531.8" fill="#4fb5cb" fill-opacity="0.5"/>
<polygon points="1031.2,519.9 1058.7,538.0 1058.7,536.0 1031.2,517.9" fill="#46a1b4" fill-opacity="0.5"/>
<polygon points="994.8,533.7 1022.4,551.9 1022.4,549.9 994.8,531.8" fill="#58cae2" fill-opacity="0.9" stroke="#275a65" stroke-width="0.7" stroke-opacity="0.55" stroke-linejoin="round"/>
<polygon points="1022.4,551.9 1058.7,538.0 1058.7,536.0 1022.4,549.9" fill="#51bbd2" fill-opacity="0.9" stroke="#275a65" stroke-width="0.7" stroke-opacity="0.55" stroke-linejoin="round"/>
<polygon points="994.8,531.8 1031.2,517.9 1058.7,536.0 1022.4,549.9" fill="#55c3db" fill-opacity="0.9" stroke="#275a65" stroke-width="0.7" stroke-opacity="0.55" stroke-linejoin="round"/>
<polygon points="1075.1,537.2 1111.4,523.3 1139.0,541.4 1102.6,555.3" fill="#f4d41c" fill-opacity="0.5"/>
<polygon points="1075.1,537.2 1111.4,523.3 1111.4,521.9 1075.1,535.8" fill="#dbbe19" fill-opacity="0.5"/>
<polygon points="1111.4,523.3 1139.0,541.4 1139.0,540.1 1111.4,521.9" fill="#c3a916" fill-opacity="0.5"/>
<polygon points="1075.1,537.2 1102.6,555.3 1102.6,553.9 1075.1,535.8" fill="#f4d41c" fill-opacity="0.9" stroke="#6d5f0c" stroke-width="0.7" stroke-opacity="0.55" stroke-linejoin="round"/>
<polygon points="1102.6,555.3 1139.0,541.4 1139.0,540.1 1102.6,553.9" fill="#e2c51a" fill-opacity="0.9" stroke="#6d5f0c" stroke-width="0.7" stroke-opacity="0.55" stroke-linejoin="round"/>
<polygon points="1075.1,535.8 1111.4,521.9 1139.0,540.1 1102.6,553.9" fill="#eccd1b" fill-opacity="0.9" stroke="#6d5f0c" stroke-width="0.7" stroke-opacity="0.55" stroke-linejoin="round"/>
<polygon points="1155.4,542.6 1191.7,528.7 1219.3,546.8 1182.9,560.7" fill="#a8161e" fill-opacity="0.5"/>
<polygon points="1155.4,542.6 1191.7,528.7 1191.7,525.2 1155.4,539.1" fill="#97131b" fill-opacity="0.5"/>
<polygon points="1191.7,528.7 1219.3,546.8 1219.3,543.4 1191.7,525.2" fill="#861118" fill-opacity="0.5"/>
<polygon points="1155.4,542.6 1182.9,560.7 1182.9,557.2 1155.4,539.1" fill="#a8161e" fill-opacity="0.9" stroke="#4b090d" stroke-width="0.7" stroke-opacity="0.55" stroke-linejoin="round"/>
<polygon points="1182.9,560.7 1219.3,546.8 1219.3,543.4 1182.9,557.2" fill="#9c141b" fill-opacity="0.9" stroke="#4b090d" stroke-width="0.7" stroke-opacity="0.55" stroke-linejoin="round"/>
<polygon points="1155.4,539.1 1191.7,525.2 1219.3,543.4 1182.9,557.2" fill="#a2151d" fill-opacity="0.9" stroke="#4b090d" stroke-width="0.7" stroke-opacity="0.55" stroke-linejoin="round"/>
<polygon points="950.3,549.2 985.4,535.9 1011.9,553.4 976.8,566.7" fill="#4744a6" fill-opacity="0.95" stroke="#1f1e4a" stroke-width="0.5" stroke-opacity="0.7" stroke-linejoin="round"/>
<polygon points="1030.5,554.6 1065.6,541.3 1092.2,558.8 1057.1,572.1" fill="#55c6dd" fill-opacity="0.95" stroke="#265963" stroke-width="0.5" stroke-opacity="0.7" stroke-linejoin="round"/>
<polygon points="1110.8,560.0 1145.9,546.7 1172.5,564.2 1137.4,577.5" fill="#f0c840" fill-opacity="0.95" stroke="#6c5a1c" stroke-width="0.5" stroke-opacity="0.7" stroke-linejoin="round"/>
<polygon points="1191.1,565.4 1226.2,552.1 1252.7,569.6 1217.7,582.9" fill="#9a4245" fill-opacity="0.95" stroke="#451d1f" stroke-width="0.5" stroke-opacity="0.7" stroke-linejoin="round"/>
<polygon points="983.8,572.0 1020.1,558.1 1047.6,576.2 1011.3,590.1" fill="#16309f" fill-opacity="0.5"/>
<polygon points="983.8,572.0 1020.1,558.1 1020.1,555.9 983.8,569.8" fill="#132b8f" fill-opacity="0.5"/>
<polygon points="1020.1,558.1 1047.6,576.2 1047.6,574.1 1020.1,555.9" fill="#11267f" fill-opacity="0.5"/>
<polygon points="983.8,572.0 1011.3,590.1 1011.3,587.9 983.8,569.8" fill="#16309f" fill-opacity="0.9" stroke="#091547" stroke-width="0.7" stroke-opacity="0.55" stroke-linejoin="round"/>
<polygon points="1011.3,590.1 1047.6,576.2 1047.6,574.1 1011.3,587.9" fill="#142c93" fill-opacity="0.9" stroke="#091547" stroke-width="0.7" stroke-opacity="0.55" stroke-linejoin="round"/>
<polygon points="983.8,569.8 1020.1,555.9 1047.6,574.1 1011.3,587.9" fill="#152e9a" fill-opacity="0.9" stroke="#091547" stroke-width="0.7" stroke-opacity="0.55" stroke-linejoin="round"/>
<polygon points="1065.1,577.4 1100.2,564.1 1126.8,581.6 1091.7,594.9" fill="#48c4de" fill-opacity="0.95" stroke="#205863" stroke-width="0.5" stroke-opacity="0.7" stroke-linejoin="round"/>
<polygon points="1144.3,585.6 1180.6,571.8 1208.2,589.9 1171.8,603.8" fill="#f0c62c" fill-opacity="0.5"/>
<polygon points="1144.3,585.6 1180.6,571.8 1180.6,568.9 1144.3,582.8" fill="#d8b227" fill-opacity="0.5"/>
<polygon points="1180.6,571.8 1208.2,589.9 1208.2,587.0 1180.6,568.9" fill="#c09e23" fill-opacity="0.5"/>
<polygon points="1144.3,585.6 1171.8,603.8 1171.8,600.9 1144.3,582.8" fill="#f0c62c" fill-opacity="0.9" stroke="#6c5913" stroke-width="0.7" stroke-opacity="0.55" stroke-linejoin="round"/>
<polygon points="1171.8,603.8 1208.2,589.9 1208.2,587.0 1171.8,600.9" fill="#dfb828" fill-opacity="0.9" stroke="#6c5913" stroke-width="0.7" stroke-opacity="0.55" stroke-linejoin="round"/>
<polygon points="1144.3,582.8 1180.6,568.9 1208.2,587.0 1171.8,600.9" fill="#e8c02a" fill-opacity="0.9" stroke="#6c5913" stroke-width="0.7" stroke-opacity="0.55" stroke-linejoin="round"/>
<polygon points="1018.4,594.8 1054.7,580.9 1082.2,599.0 1045.9,612.9" fill="#16309f" fill-opacity="0.5"/>
<polygon points="1018.4,594.8 1054.7,580.9 1054.7,578.6 1018.4,592.4" fill="#132b8f" fill-opacity="0.5"/>
<polygon points="1054.7,580.9 1082.2,599.0 1082.2,596.7 1054.7,578.6" fill="#11267f" fill-opacity="0.5"/>
<polygon points="1018.4,594.8 1045.9,612.9 1045.9,610.6 1018.4,592.4" fill="#16309f" fill-opacity="0.9" stroke="#091547" stroke-width="0.7" stroke-opacity="0.55" stroke-linejoin="round"/>
<polygon points="1045.9,612.9 1082.2,599.0 1082.2,596.7 1045.9,610.6" fill="#142c93" fill-opacity="0.9" stroke="#091547" stroke-width="0.7" stroke-opacity="0.55" stroke-linejoin="round"/>
<polygon points="1018.4,592.4 1054.7,578.6 1082.2,596.7 1045.9,610.6" fill="#152e9a" fill-opacity="0.9" stroke="#091547" stroke-width="0.7" stroke-opacity="0.55" stroke-linejoin="round"/>
<polygon points="1098.6,604.4 1135.0,590.6 1162.5,608.7 1126.2,622.6" fill="#58cbe2" fill-opacity="0.5"/>
<polygon points="1098.6,604.4 1135.0,590.6 1135.0,586.3 1098.6,600.2" fill="#4fb6cb" fill-opacity="0.5"/>
<polygon points="1135.0,590.6 1162.5,608.7 1162.5,604.4 1135.0,586.3" fill="#46a2b4" fill-opacity="0.5"/>
<polygon points="1098.6,604.4 1126.2,622.6 1126.2,618.3 1098.6,600.2" fill="#58cbe2" fill-opacity="0.9" stroke="#275b65" stroke-width="0.7" stroke-opacity="0.55" stroke-linejoin="round"/>
<polygon points="1126.2,622.6 1162.5,608.7 1162.5,604.4 1126.2,618.3" fill="#51bcd2" fill-opacity="0.9" stroke="#275b65" stroke-width="0.7" stroke-opacity="0.55" stroke-linejoin="round"/>
<polygon points="1098.6,600.2 1135.0,586.3 1162.5,604.4 1126.2,618.3" fill="#55c4db" fill-opacity="0.9" stroke="#275b65" stroke-width="0.7" stroke-opacity="0.55" stroke-linejoin="round"/>
<polygon points="1053.0,617.6 1089.3,603.7 1116.8,621.8 1080.5,635.7" fill="#16309f" fill-opacity="0.5"/>
<polygon points="1053.0,617.6 1089.3,603.7 1089.3,602.0 1053.0,615.8" fill="#132b8f" fill-opacity="0.5"/>
<polygon points="1089.3,603.7 1116.8,621.8 1116.8,620.1 1089.3,602.0" fill="#11267f" fill-opacity="0.5"/>
<polygon points="1053.0,617.6 1080.5,635.7 1080.5,634.0 1053.0,615.8" fill="#16309f" fill-opacity="0.9" stroke="#091547" stroke-width="0.7" stroke-opacity="0.55" stroke-linejoin="round"/>
<polygon points="1080.5,635.7 1116.8,621.8 1116.8,620.1 1080.5,634.0" fill="#142c93" fill-opacity="0.9" stroke="#091547" stroke-width="0.7" stroke-opacity="0.55" stroke-linejoin="round"/>
<polygon points="1053.0,615.8 1089.3,602.0 1116.8,620.1 1080.5,634.0" fill="#152e9a" fill-opacity="0.9" stroke="#091547" stroke-width="0.7" stroke-opacity="0.55" stroke-linejoin="round"/>
<line x1="932.9" y1="606.2" x2="1078.9" y2="701.1" stroke="#1c1c1c" stroke-width="3.5" stroke-linecap="square"/>
<line x1="1078.9" y1="701.1" x2="1268.7" y2="628.3" stroke="#1c1c1c" stroke-width="3.5" stroke-linecap="square"/>
<line x1="932.9" y1="606.2" x2="932.9" y2="432.2" stroke="#1c1c1c" stroke-width="3.5" stroke-linecap="square"/>
<line x1="1268.7" y1="628.3" x2="1268.7" y2="454.3" stroke="#1c1c1c" stroke-width="3.5" stroke-linecap="square"/>
<line x1="932.9" y1="432.2" x2="1123.1" y2="361.0" stroke="#1c1c1c" stroke-width="3.5" stroke-linecap="square"/>
<line x1="1123.1" y1="361.0" x2="1268.7" y2="454.3" stroke="#1c1c1c" stroke-width="3.5" stroke-linecap="square"/>
<line x1="931.9" y1="432.0" x2="928.5" y2="430.2" stroke="#1c1c1c" stroke-width="3"/>
<text transform="translate(924.70,433.10) scale(1.07,1)" font-family="Liberation Sans, sans-serif" font-size="14" font-weight="bold" font-style="normal" text-anchor="end" fill="#1a1a1a" >1</text>
<line x1="931.9" y1="455.1" x2="928.5" y2="453.3" stroke="#1c1c1c" stroke-width="3"/>
<text transform="translate(924.70,456.15) scale(1.07,1)" font-family="Liberation Sans, sans-serif" font-size="14" font-weight="bold" font-style="normal" text-anchor="end" fill="#1a1a1a" >0.8</text>
<line x1="931.9" y1="478.1" x2="928.5" y2="476.3" stroke="#1c1c1c" stroke-width="3"/>
<text transform="translate(924.70,479.20) scale(1.07,1)" font-family="Liberation Sans, sans-serif" font-size="14" font-weight="bold" font-style="normal" text-anchor="end" fill="#1a1a1a" >0.6</text>
<line x1="931.9" y1="501.2" x2="928.5" y2="499.4" stroke="#1c1c1c" stroke-width="3"/>
<text transform="translate(924.70,502.25) scale(1.07,1)" font-family="Liberation Sans, sans-serif" font-size="14" font-weight="bold" font-style="normal" text-anchor="end" fill="#1a1a1a" >0.4</text>
<line x1="931.9" y1="524.2" x2="928.5" y2="522.4" stroke="#1c1c1c" stroke-width="3"/>
<text transform="translate(924.70,525.30) scale(1.07,1)" font-family="Liberation Sans, sans-serif" font-size="14" font-weight="bold" font-style="normal" text-anchor="end" fill="#1a1a1a" >0.2</text>
<line x1="931.9" y1="547.2" x2="928.5" y2="545.5" stroke="#1c1c1c" stroke-width="3"/>
<text transform="translate(924.70,548.35) scale(1.07,1)" font-family="Liberation Sans, sans-serif" font-size="14" font-weight="bold" font-style="normal" text-anchor="end" fill="#1a1a1a" >0</text>
<line x1="931.9" y1="570.3" x2="928.5" y2="568.5" stroke="#1c1c1c" stroke-width="3"/>
<text transform="translate(924.70,571.40) scale(1.07,1)" font-family="Liberation Sans, sans-serif" font-size="14" font-weight="bold" font-style="normal" text-anchor="end" fill="#1a1a1a" >-0.2</text>
<line x1="931.9" y1="593.4" x2="928.5" y2="591.6" stroke="#1c1c1c" stroke-width="3"/>
<text transform="translate(924.70,594.45) scale(1.07,1)" font-family="Liberation Sans, sans-serif" font-size="14" font-weight="bold" font-style="normal" text-anchor="end" fill="#1a1a1a" >-0.4</text>
<line x1="954.1" y1="620.0" x2="949.6" y2="621.7" stroke="#1c1c1c" stroke-width="3"/>
<text transform="translate(935.07,637.96) scale(1.04,1)" font-family="Liberation Sans, sans-serif" font-size="14.5" font-weight="bold" font-style="normal" text-anchor="middle" fill="#1a1a1a" >HH</text>
<line x1="988.7" y1="642.5" x2="984.2" y2="644.2" stroke="#1c1c1c" stroke-width="3"/>
<text transform="translate(969.67,660.45) scale(1.04,1)" font-family="Liberation Sans, sans-serif" font-size="14.5" font-weight="bold" font-style="normal" text-anchor="middle" fill="#1a1a1a" >HV</text>
<line x1="1023.3" y1="664.9" x2="1018.8" y2="666.7" stroke="#1c1c1c" stroke-width="3"/>
<text transform="translate(1004.27,682.94) scale(1.04,1)" font-family="Liberation Sans, sans-serif" font-size="14.5" font-weight="bold" font-style="normal" text-anchor="middle" fill="#1a1a1a" >VH</text>
<line x1="1057.9" y1="687.4" x2="1053.4" y2="689.1" stroke="#1c1c1c" stroke-width="3"/>
<text transform="translate(1038.88,705.43) scale(1.04,1)" font-family="Liberation Sans, sans-serif" font-size="14.5" font-weight="bold" font-style="normal" text-anchor="middle" fill="#1a1a1a" >VV</text>
<line x1="1107.4" y1="690.2" x2="1111.2" y2="692.7" stroke="#1c1c1c" stroke-width="3"/>
<text transform="translate(1123.87,710.78) scale(1.04,1)" font-family="Liberation Sans, sans-serif" font-size="14.5" font-weight="bold" font-style="normal" text-anchor="middle" fill="#1a1a1a" >HH</text>
<line x1="1153.1" y1="672.7" x2="1156.9" y2="675.2" stroke="#1c1c1c" stroke-width="3"/>
<text transform="translate(1169.55,693.26) scale(1.04,1)" font-family="Liberation Sans, sans-serif" font-size="14.5" font-weight="bold" font-style="normal" text-anchor="middle" fill="#1a1a1a" >HV</text>
<line x1="1198.7" y1="655.1" x2="1202.6" y2="657.7" stroke="#1c1c1c" stroke-width="3"/>
<text transform="translate(1215.24,675.73) scale(1.04,1)" font-family="Liberation Sans, sans-serif" font-size="14.5" font-weight="bold" font-style="normal" text-anchor="middle" fill="#1a1a1a" >VH</text>
<line x1="1244.4" y1="637.6" x2="1248.3" y2="640.1" stroke="#1c1c1c" stroke-width="3"/>
<text transform="translate(1260.92,658.21) scale(1.04,1)" font-family="Liberation Sans, sans-serif" font-size="14.5" font-weight="bold" font-style="normal" text-anchor="middle" fill="#1a1a1a" >VV</text>
<text transform="translate(1010.20,440.70) scale(1.0,1)" font-family="Liberation Serif, serif" font-size="30" font-weight="normal" font-style="normal" text-anchor="start" fill="#111" >Im</text>
<text transform="translate(1045.50,441.30) scale(1.0,1)" font-family="Liberation Serif, serif" font-size="32" font-weight="normal" font-style="normal" text-anchor="start" fill="#111" >(</text>
<text transform="translate(1056.80,440.70) scale(1.0,1)" font-family="Liberation Serif, serif" font-size="31" font-weight="normal" font-style="italic" text-anchor="start" fill="#111" >ρ</text>
<path d="M1058.5,423.7 l5.0,-4.3 l5.0,4.3" fill="none" stroke="#111" stroke-width="1.6" stroke-linejoin="miter"/>
<text transform="translate(1073.20,441.30) scale(1.0,1)" font-family="Liberation Serif, serif" font-size="32" font-weight="normal" font-style="normal" text-anchor="start" fill="#111" >)</text>
<text transform="translate(537.50,33.50) scale(1.0,1)" font-family="Liberation Serif, serif" font-size="30" font-weight="bold" font-style="normal" text-anchor="start" fill="#000" >c</text>
<text transform="translate(537.30,393.50) scale(1.0,1)" font-family="Liberation Serif, serif" font-size="30" font-weight="bold" font-style="normal" text-anchor="start" fill="#000" >d</text>
</g></svg></body></html>
